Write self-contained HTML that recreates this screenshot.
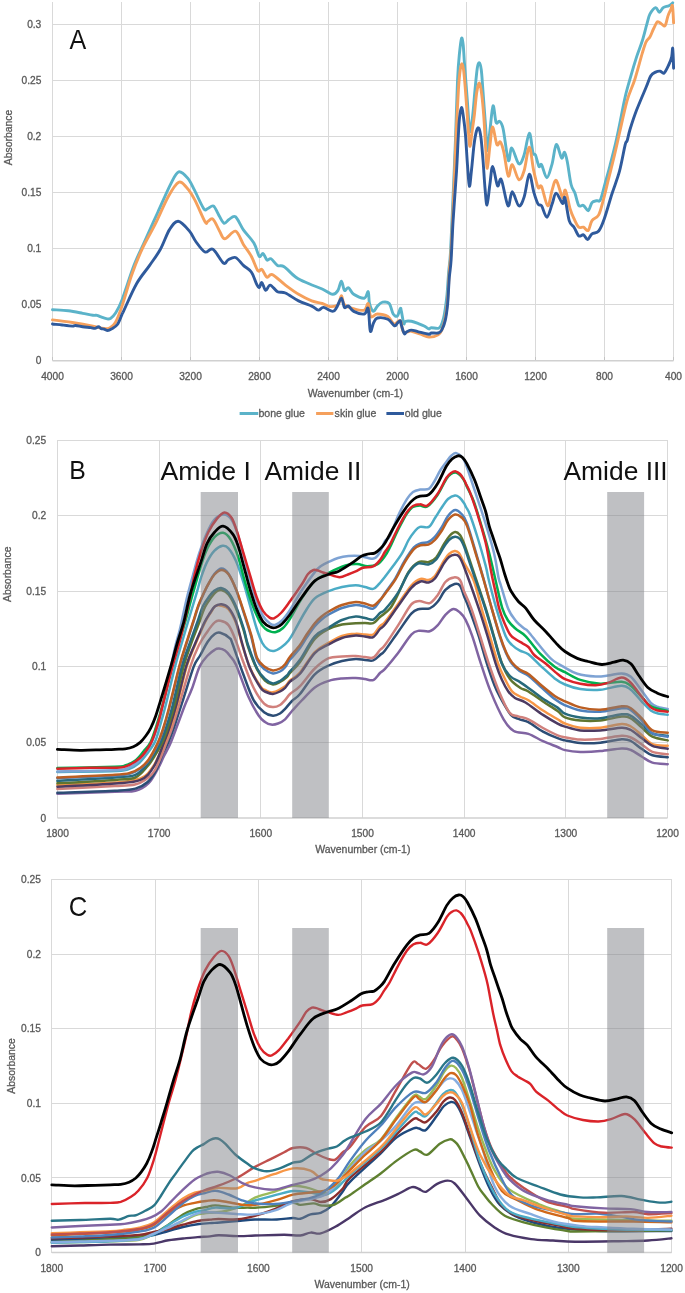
<!DOCTYPE html>
<html><head><meta charset="utf-8"><title>FTIR spectra</title>
<style>
html,body{margin:0;padding:0;background:#fff;}
body{width:685px;height:1293px;overflow:hidden;}
svg{display:block;font-family:"Liberation Sans", sans-serif;will-change:transform;}
</style></head>
<body>
<svg width="685" height="1293" viewBox="0 0 685 1293">
<rect x="0" y="0" width="685" height="1293" fill="#fff"/>
<g shape-rendering="crispEdges">
<line x1="121.5" y1="2.1" x2="121.5" y2="360.5" stroke="#d9d9d9" stroke-width="1"/>
<line x1="190.5" y1="2.1" x2="190.5" y2="360.5" stroke="#d9d9d9" stroke-width="1"/>
<line x1="259.5" y1="2.1" x2="259.5" y2="360.5" stroke="#d9d9d9" stroke-width="1"/>
<line x1="328.5" y1="2.1" x2="328.5" y2="360.5" stroke="#d9d9d9" stroke-width="1"/>
<line x1="397.5" y1="2.1" x2="397.5" y2="360.5" stroke="#d9d9d9" stroke-width="1"/>
<line x1="466.5" y1="2.1" x2="466.5" y2="360.5" stroke="#d9d9d9" stroke-width="1"/>
<line x1="535.5" y1="2.1" x2="535.5" y2="360.5" stroke="#d9d9d9" stroke-width="1"/>
<line x1="604.5" y1="2.1" x2="604.5" y2="360.5" stroke="#d9d9d9" stroke-width="1"/>
<line x1="673.5" y1="2.1" x2="673.5" y2="360.5" stroke="#d9d9d9" stroke-width="1"/>
<line x1="52.5" y1="2.1" x2="52.5" y2="360.5" stroke="#d9d9d9" stroke-width="1"/>
<line x1="52.5" y1="304.5" x2="673.5" y2="304.5" stroke="#d9d9d9" stroke-width="1"/>
<line x1="52.5" y1="248.5" x2="673.5" y2="248.5" stroke="#d9d9d9" stroke-width="1"/>
<line x1="52.5" y1="192.5" x2="673.5" y2="192.5" stroke="#d9d9d9" stroke-width="1"/>
<line x1="52.5" y1="136.5" x2="673.5" y2="136.5" stroke="#d9d9d9" stroke-width="1"/>
<line x1="52.5" y1="80.5" x2="673.5" y2="80.5" stroke="#d9d9d9" stroke-width="1"/>
<line x1="52.5" y1="24.5" x2="673.5" y2="24.5" stroke="#d9d9d9" stroke-width="1"/>
</g>
<line x1="52.5" y1="360.8" x2="673.5" y2="360.8" stroke="#d0d0d0" stroke-width="1.5"/>
<line x1="52.5" y1="357" x2="52.5" y2="360" stroke="#c4c4c4" stroke-width="1" shape-rendering="crispEdges"/>
<line x1="121.5" y1="357" x2="121.5" y2="360" stroke="#c4c4c4" stroke-width="1" shape-rendering="crispEdges"/>
<line x1="190.5" y1="357" x2="190.5" y2="360" stroke="#c4c4c4" stroke-width="1" shape-rendering="crispEdges"/>
<line x1="259.5" y1="357" x2="259.5" y2="360" stroke="#c4c4c4" stroke-width="1" shape-rendering="crispEdges"/>
<line x1="328.5" y1="357" x2="328.5" y2="360" stroke="#c4c4c4" stroke-width="1" shape-rendering="crispEdges"/>
<line x1="397.5" y1="357" x2="397.5" y2="360" stroke="#c4c4c4" stroke-width="1" shape-rendering="crispEdges"/>
<line x1="466.5" y1="357" x2="466.5" y2="360" stroke="#c4c4c4" stroke-width="1" shape-rendering="crispEdges"/>
<line x1="535.5" y1="357" x2="535.5" y2="360" stroke="#c4c4c4" stroke-width="1" shape-rendering="crispEdges"/>
<line x1="604.5" y1="357" x2="604.5" y2="360" stroke="#c4c4c4" stroke-width="1" shape-rendering="crispEdges"/>
<line x1="673.5" y1="357" x2="673.5" y2="360" stroke="#c4c4c4" stroke-width="1" shape-rendering="crispEdges"/>
<text x="41.3" y="364.1" font-size="10.2" text-anchor="end" fill="#595959" stroke="#595959" stroke-width="0.3">0</text>
<text x="41.3" y="308.1" font-size="10.2" text-anchor="end" fill="#595959" stroke="#595959" stroke-width="0.3">0.05</text>
<text x="41.3" y="252.1" font-size="10.2" text-anchor="end" fill="#595959" stroke="#595959" stroke-width="0.3">0.1</text>
<text x="41.3" y="196.1" font-size="10.2" text-anchor="end" fill="#595959" stroke="#595959" stroke-width="0.3">0.15</text>
<text x="41.3" y="140.1" font-size="10.2" text-anchor="end" fill="#595959" stroke="#595959" stroke-width="0.3">0.2</text>
<text x="41.3" y="84.1" font-size="10.2" text-anchor="end" fill="#595959" stroke="#595959" stroke-width="0.3">0.25</text>
<text x="41.3" y="28.1" font-size="10.2" text-anchor="end" fill="#595959" stroke="#595959" stroke-width="0.3">0.3</text>
<text x="52.5" y="379.8" font-size="10.2" text-anchor="middle" fill="#595959" stroke="#595959" stroke-width="0.3">4000</text>
<text x="121.5" y="379.8" font-size="10.2" text-anchor="middle" fill="#595959" stroke="#595959" stroke-width="0.3">3600</text>
<text x="190.5" y="379.8" font-size="10.2" text-anchor="middle" fill="#595959" stroke="#595959" stroke-width="0.3">3200</text>
<text x="259.5" y="379.8" font-size="10.2" text-anchor="middle" fill="#595959" stroke="#595959" stroke-width="0.3">2800</text>
<text x="328.5" y="379.8" font-size="10.2" text-anchor="middle" fill="#595959" stroke="#595959" stroke-width="0.3">2400</text>
<text x="397.5" y="379.8" font-size="10.2" text-anchor="middle" fill="#595959" stroke="#595959" stroke-width="0.3">2000</text>
<text x="466.5" y="379.8" font-size="10.2" text-anchor="middle" fill="#595959" stroke="#595959" stroke-width="0.3">1600</text>
<text x="535.5" y="379.8" font-size="10.2" text-anchor="middle" fill="#595959" stroke="#595959" stroke-width="0.3">1200</text>
<text x="604.5" y="379.8" font-size="10.2" text-anchor="middle" fill="#595959" stroke="#595959" stroke-width="0.3">800</text>
<text x="673.5" y="379.8" font-size="10.2" text-anchor="middle" fill="#595959" stroke="#595959" stroke-width="0.3">400</text>
<text x="355.4" y="397.3" font-size="10.5" text-anchor="middle" fill="#595959" stroke="#595959" stroke-width="0.3">Wavenumber (cm-1)</text>
<text transform="translate(12.1 137.4) rotate(-90)" font-size="10.4" text-anchor="middle" fill="#595959" stroke="#595959" stroke-width="0.3">Absorbance</text>
<line x1="239.6" y1="413.5" x2="258.3" y2="413.5" stroke="#5bb3c9" stroke-width="3"/>
<text x="258.4" y="417.2" font-size="10.6" text-anchor="start" fill="#595959" stroke="#595959" stroke-width="0.3">bone glue</text>
<line x1="316.1" y1="413.5" x2="333.4" y2="413.5" stroke="#f5a05c" stroke-width="3"/>
<text x="334.6" y="417.2" font-size="10.6" text-anchor="start" fill="#595959" stroke="#595959" stroke-width="0.3">skin glue</text>
<line x1="386.4" y1="413.5" x2="404.0" y2="413.5" stroke="#2f5a9c" stroke-width="3"/>
<text x="404.8" y="417.2" font-size="10.6" text-anchor="start" fill="#595959" stroke="#595959" stroke-width="0.3">old glue</text>
<text x="69.4" y="48.9" font-size="27.0" text-anchor="start" fill="#111" transform="translate(69.4 0) scale(0.93 1) translate(-69.4 0)">A</text>
<g>
<path d="M52.5 309.7 C55.1 309.9 63.3 310.1 68.3 310.7 C73.3 311.3 78.6 312.5 82.7 313.3 C86.8 314.1 90.5 315.0 92.9 315.3 C95.3 315.6 95.7 315.0 97.0 315.3 C98.3 315.6 99.3 316.3 101.0 316.9 C102.7 317.5 105.6 318.7 107.2 318.9 C108.8 319.1 109.4 319.1 110.8 318.2 C112.2 317.3 113.5 316.3 115.4 313.3 C117.3 310.3 118.9 308.0 122.0 300.0 C125.1 292.0 130.3 274.9 134.1 265.1 C137.9 255.4 140.7 250.3 144.6 241.5 C148.5 232.7 153.3 222.2 157.7 212.5 C162.1 202.8 167.4 190.4 170.9 183.6 C174.4 176.8 175.9 172.7 178.7 171.8 C181.5 170.9 185.3 175.3 187.9 178.4 C190.5 181.5 191.9 185.2 194.5 190.2 C197.1 195.2 201.5 205.5 203.7 208.6 C205.9 211.7 206.0 209.0 207.6 208.6 C209.2 208.2 211.6 205.1 213.4 206.0 C215.2 206.9 216.4 211.1 218.2 213.9 C219.9 216.8 222.1 222.2 223.9 223.1 C225.7 224.0 227.1 220.6 229.0 219.5 C230.9 218.4 233.1 215.1 235.5 216.8 C237.9 218.5 240.3 225.5 243.4 229.9 C246.5 234.3 251.3 238.7 253.9 243.1 C256.5 247.5 257.7 254.4 259.2 256.2 C260.7 257.9 261.8 252.9 263.1 253.6 C264.4 254.2 265.7 259.2 267.0 260.1 C268.3 261.0 269.2 257.9 271.0 258.8 C272.8 259.7 275.3 264.1 277.5 265.4 C279.7 266.7 281.0 264.7 284.1 266.7 C287.2 268.7 291.7 274.3 295.9 277.2 C300.1 280.1 304.7 281.8 309.1 283.8 C313.5 285.8 318.3 287.2 322.2 289.0 C326.1 290.8 330.1 294.1 332.7 294.3 C335.3 294.5 336.6 292.6 338.0 290.4 C339.4 288.2 340.3 281.2 341.4 281.2 C342.5 281.2 343.3 289.3 344.5 290.4 C345.7 291.5 347.0 287.0 348.5 287.7 C350.0 288.4 351.1 292.6 353.7 294.3 C356.3 296.1 361.9 298.6 364.3 298.2 C366.7 297.8 367.3 290.8 368.2 291.7 C369.1 292.6 368.6 300.2 369.5 303.5 C370.4 306.8 372.1 311.0 373.4 311.4 C374.7 311.8 375.9 307.6 377.4 306.1 C378.9 304.6 380.6 302.6 382.6 302.2 C384.6 301.8 387.4 301.5 389.2 303.5 C391.0 305.5 391.8 311.9 393.2 314.0 C394.6 316.1 396.1 316.9 397.3 316.0 C398.5 315.1 399.6 309.3 400.3 308.5 C401.0 307.7 400.8 308.9 401.4 311.4 C402.0 313.9 403.1 322.0 403.8 323.6 C404.5 325.2 404.2 321.7 405.5 321.3 C406.8 320.9 409.2 320.9 411.4 321.3 C413.5 321.7 416.3 322.8 418.4 323.6 C420.5 324.4 422.4 325.1 424.2 326.0 C425.9 326.9 427.7 328.6 428.9 328.9 C430.1 329.2 429.6 327.8 431.2 327.7 C432.8 327.6 436.5 328.7 438.2 328.3 C439.9 327.9 440.2 327.0 441.1 325.4 C442.0 323.8 442.8 321.1 443.5 318.4 C444.2 315.7 444.6 313.0 445.2 309.1 C445.8 305.2 446.4 301.2 447.0 295.0 C447.6 288.8 448.1 278.4 448.7 271.7 C449.2 265.0 449.8 263.6 450.3 255.0 C450.9 246.4 451.4 232.5 452.0 220.0 C452.6 207.5 453.2 193.5 453.8 180.0 C454.4 166.5 454.9 155.4 455.5 139.0 C456.1 122.5 456.9 95.3 457.5 81.3 C458.1 67.3 458.6 62.1 459.3 55.0 C460.0 47.9 460.9 40.1 461.5 38.4 C462.1 36.7 462.7 40.8 463.2 45.0 C463.7 49.2 463.8 54.8 464.5 63.8 C465.2 72.8 466.3 87.6 467.2 98.8 C468.1 110.0 468.9 127.8 469.8 131.0 C470.7 134.2 471.5 124.9 472.4 118.1 C473.3 111.3 474.2 98.3 475.0 90.0 C475.8 81.7 476.6 72.5 477.3 68.0 C478.0 63.5 478.7 62.6 479.4 62.9 C480.1 63.2 480.7 65.5 481.3 70.0 C481.9 74.5 482.2 80.8 482.9 90.0 C483.6 99.2 484.7 115.0 485.5 125.1 C486.3 135.2 486.8 149.7 487.5 150.5 C488.2 151.3 489.1 137.4 490.0 130.0 C490.9 122.5 492.1 107.0 493.1 105.8 C494.1 104.5 495.0 119.9 496.1 122.5 C497.2 125.1 498.4 120.2 499.6 121.3 C500.8 122.3 501.7 122.3 503.1 128.8 C504.6 135.3 506.9 157.1 508.3 160.3 C509.8 163.5 510.1 147.4 511.8 148.0 C513.5 148.6 516.8 162.6 518.8 163.8 C520.8 165.0 522.4 160.1 524.1 155.0 C525.9 149.9 527.8 133.5 529.3 133.1 C530.8 132.7 531.9 148.8 532.9 152.4 C533.9 156.1 534.5 152.7 535.5 155.0 C536.5 157.3 538.0 164.8 539.0 166.4 C540.0 168.0 540.3 162.8 541.6 164.7 C542.9 166.6 545.1 178.0 546.9 177.8 C548.6 177.7 550.5 169.3 552.1 163.8 C553.7 158.3 554.7 145.6 556.3 144.6 C557.9 143.6 560.2 156.7 561.6 158.0 C563.0 159.3 563.5 151.7 564.5 152.3 C565.5 152.9 566.2 156.4 567.3 161.8 C568.4 167.2 569.8 179.3 571.1 184.5 C572.4 189.7 573.6 189.6 574.9 193.1 C576.2 196.6 577.3 203.3 578.7 205.4 C580.1 207.5 581.9 204.5 583.5 205.4 C585.1 206.3 586.8 211.2 588.2 210.7 C589.6 210.2 590.6 204.3 592.0 202.6 C593.4 200.9 595.4 201.2 596.8 200.7 C598.2 200.2 599.1 202.7 600.5 199.7 C601.9 196.7 603.7 188.3 605.3 182.6 C606.9 176.9 608.3 172.1 610.0 165.5 C611.7 158.9 614.1 149.6 615.7 142.8 C617.3 136.1 617.9 132.7 619.5 125.0 C621.1 117.3 623.3 105.0 625.2 96.8 C627.1 88.6 629.0 82.6 630.9 75.9 C632.8 69.2 634.7 62.8 636.6 56.9 C638.5 51.0 640.6 46.3 642.3 40.8 C644.0 35.3 645.7 28.1 647.0 23.7 C648.3 19.3 648.5 16.9 649.9 14.2 C651.3 11.5 654.0 7.9 655.6 7.6 C657.2 7.3 658.1 12.3 659.4 12.3 C660.7 12.3 661.6 8.7 663.2 7.6 C664.8 6.5 667.3 6.5 668.9 5.7 C670.5 4.9 672.1 3.3 672.7 2.8" fill="none" stroke="#5bb3c9" stroke-width="2.9" stroke-linejoin="round" stroke-linecap="round"/>
<path d="M52.5 319.9 C55.8 320.3 65.7 321.5 72.4 322.5 C79.1 323.5 88.5 325.2 92.9 326.1 C97.3 327.0 96.6 327.2 99.0 327.6 C101.4 328.0 105.3 328.6 107.2 328.6 C109.1 328.6 108.8 328.6 110.2 327.6 C111.6 326.6 113.4 326.1 115.4 322.5 C117.4 318.9 119.3 313.9 122.0 306.1 C124.7 298.3 128.2 285.1 131.5 275.6 C134.8 266.1 138.1 257.8 142.0 249.3 C145.9 240.8 150.7 233.2 155.1 224.4 C159.5 215.7 164.3 203.8 168.2 196.8 C172.1 189.8 175.6 183.8 178.7 182.3 C181.8 180.8 184.0 184.8 186.6 187.6 C189.2 190.4 191.4 193.7 194.5 199.4 C197.6 205.1 202.8 218.0 205.0 221.7 C207.2 225.4 206.3 222.1 207.6 221.7 C208.9 221.3 210.9 217.6 212.9 219.1 C214.9 220.6 217.5 227.6 219.5 230.9 C221.5 234.2 222.1 238.8 224.8 238.8 C227.5 238.9 232.4 230.3 235.5 231.2 C238.6 232.1 240.8 240.2 243.4 244.4 C246.0 248.6 248.9 251.8 251.3 256.2 C253.7 260.6 256.1 268.4 257.8 270.6 C259.6 272.8 260.3 268.2 261.8 269.3 C263.3 270.4 265.2 276.3 267.0 277.2 C268.8 278.1 269.2 273.3 272.3 274.6 C275.4 275.9 281.0 281.8 285.4 285.1 C289.8 288.4 294.2 291.7 298.6 294.3 C303.0 296.9 307.8 299.4 311.7 300.9 C315.6 302.4 319.1 302.6 322.2 303.5 C325.3 304.4 327.5 306.4 330.1 306.6 C332.7 306.8 336.1 306.6 338.0 304.8 C339.9 303.0 340.3 295.6 341.4 295.6 C342.5 295.6 342.4 302.6 344.5 304.8 C346.6 307.0 350.4 307.8 353.7 308.7 C357.0 309.6 361.9 311.0 364.3 310.1 C366.7 309.2 367.1 302.4 368.2 303.5 C369.3 304.6 369.3 314.9 370.8 316.6 C372.3 318.4 374.5 314.0 377.4 314.0 C380.2 314.0 385.1 314.9 387.9 316.6 C390.7 318.3 391.9 323.3 394.0 324.0 C396.1 324.7 398.7 319.4 400.3 320.7 C401.9 322.0 401.6 330.2 403.5 332.0 C405.4 333.8 408.5 330.8 411.4 331.2 C414.3 331.6 417.8 333.2 420.7 334.2 C423.6 335.2 426.0 337.0 428.9 337.1 C431.8 337.2 436.1 335.9 438.2 334.7 C440.3 333.5 440.5 332.8 441.7 330.1 C442.9 327.4 444.2 323.3 445.2 318.4 C446.2 313.5 446.9 308.7 447.6 300.9 C448.3 293.1 448.8 279.3 449.3 271.7 C449.8 264.1 450.2 263.6 450.8 255.0 C451.4 246.4 452.0 232.5 452.6 220.0 C453.2 207.5 453.8 193.5 454.3 180.0 C454.9 166.5 455.2 154.1 455.9 139.1 C456.6 124.1 457.7 101.5 458.4 90.0 C459.1 78.5 459.6 74.4 460.2 70.0 C460.8 65.6 461.3 63.8 461.9 63.8 C462.5 63.8 463.0 65.6 463.6 70.0 C464.2 74.4 464.7 80.8 465.4 90.0 C466.1 99.2 467.3 115.7 468.0 125.1 C468.7 134.5 469.1 145.2 469.8 146.3 C470.5 147.5 471.3 137.0 472.0 132.0 C472.7 127.0 473.4 123.1 474.2 116.4 C475.0 109.7 475.9 97.5 476.8 92.0 C477.7 86.5 478.6 82.6 479.4 83.1 C480.2 83.6 481.1 89.5 481.8 95.0 C482.5 100.5 483.1 107.2 483.8 116.4 C484.5 125.6 485.2 141.4 485.8 150.0 C486.4 158.6 486.6 169.0 487.3 168.2 C488.0 167.4 489.1 151.9 490.0 145.0 C490.9 138.1 491.5 127.1 492.6 127.0 C493.8 126.9 495.6 142.0 496.9 144.5 C498.2 147.0 499.2 140.6 500.4 141.9 C501.6 143.2 502.6 146.7 503.9 152.4 C505.2 158.1 506.9 174.1 508.3 176.1 C509.7 178.1 510.5 164.1 512.2 164.7 C514.0 165.3 516.8 178.6 518.8 179.6 C520.8 180.6 522.4 176.2 524.1 170.8 C525.9 165.4 527.7 147.2 529.3 147.2 C530.9 147.2 532.2 164.1 533.7 170.8 C535.2 177.5 536.8 184.8 538.1 187.4 C539.4 190.0 540.0 183.5 541.6 186.6 C543.2 189.7 546.0 205.2 547.7 205.8 C549.5 206.4 550.7 194.3 552.1 190.1 C553.5 185.9 554.5 179.2 556.3 180.5 C558.0 181.8 561.1 196.2 562.6 197.8 C564.1 199.4 564.1 188.3 565.4 190.2 C566.7 192.1 568.8 204.4 570.2 209.2 C571.6 213.9 572.6 215.7 574.0 218.7 C575.4 221.7 577.1 225.8 578.7 227.2 C580.3 228.6 581.9 226.6 583.5 227.2 C585.1 227.8 586.8 231.6 588.2 230.5 C589.6 229.4 590.2 223.2 592.0 220.6 C593.8 218.0 596.8 218.4 598.7 214.9 C600.6 211.4 601.8 205.4 603.4 199.7 C605.0 194.0 606.4 187.6 608.1 180.7 C609.8 173.8 611.9 165.9 613.8 158.0 C615.7 150.1 617.3 142.6 619.5 133.0 C621.7 123.4 624.6 109.5 627.1 100.6 C629.6 91.7 632.2 87.6 634.7 79.7 C637.2 71.8 640.4 59.4 642.3 53.1 C644.2 46.8 644.8 44.5 646.1 41.8 C647.4 39.1 648.6 39.2 649.9 37.0 C651.2 34.8 652.4 31.0 653.7 28.5 C655.0 26.0 656.2 22.6 657.5 21.8 C658.8 21.1 660.2 23.4 661.5 24.0 C662.8 24.6 664.0 26.9 665.1 25.6 C666.2 24.3 667.0 18.8 667.9 16.1 C668.8 13.4 670.0 11.2 670.8 9.5 C671.6 7.8 672.0 3.8 672.5 6.0 C673.0 8.2 673.4 20.0 673.6 22.8" fill="none" stroke="#f5a05c" stroke-width="2.9" stroke-linejoin="round" stroke-linecap="round"/>
<path d="M52.5 324.0 C54.1 324.2 58.9 324.6 62.2 325.0 C65.5 325.4 70.2 326.0 72.4 326.1 C74.6 326.2 73.8 325.4 75.5 325.5 C77.2 325.6 80.2 326.4 82.7 326.8 C85.2 327.2 88.8 327.3 90.8 327.6 C92.8 327.9 93.6 328.5 94.9 328.4 C96.2 328.3 97.5 326.8 98.5 326.8 C99.5 326.8 100.2 328.2 101.1 328.6 C102.0 329.0 103.0 328.8 104.1 329.1 C105.2 329.4 106.5 330.5 107.7 330.5 C108.9 330.5 109.7 330.1 111.3 329.1 C112.9 328.1 115.6 327.0 117.4 324.5 C119.2 322.0 121.0 316.5 122.0 314.3 C123.0 312.1 121.1 316.2 123.6 311.1 C126.0 306.0 132.3 291.2 136.7 283.5 C141.1 275.8 145.9 270.8 149.8 265.1 C153.8 259.4 157.1 255.2 160.4 249.3 C163.7 243.4 166.5 234.3 169.5 229.6 C172.5 224.9 174.9 221.0 178.2 221.2 C181.5 221.4 186.4 227.5 189.3 230.9 C192.2 234.3 193.2 238.0 195.8 241.5 C198.4 245.0 202.2 250.7 205.0 252.0 C207.8 253.3 209.8 247.5 212.9 249.3 C216.0 251.1 220.9 261.2 223.4 263.0 C225.9 264.8 226.0 260.9 228.0 260.0 C230.0 259.1 232.9 256.6 235.5 257.5 C238.1 258.4 240.8 263.0 243.4 265.4 C246.0 267.8 249.1 268.9 251.3 272.0 C253.5 275.1 255.2 281.2 256.5 283.8 C257.8 286.4 258.3 287.9 259.2 287.7 C260.1 287.5 260.7 282.1 261.8 282.5 C262.9 282.9 264.3 290.0 265.7 290.4 C267.1 290.8 268.2 284.9 270.2 285.1 C272.2 285.3 275.0 290.4 277.5 291.7 C280.0 293.0 281.9 291.5 285.4 293.0 C288.9 294.5 294.2 298.7 298.6 300.9 C303.0 303.1 308.4 304.6 311.7 306.1 C315.0 307.6 316.3 309.9 318.3 310.1 C320.3 310.3 321.1 307.2 323.5 307.4 C325.9 307.6 330.5 311.4 332.7 311.4 C334.9 311.4 335.2 309.6 336.7 307.4 C338.1 305.2 340.1 298.2 341.4 298.2 C342.7 298.2 343.3 306.1 344.5 307.4 C345.7 308.7 347.0 305.4 348.5 306.1 C350.0 306.8 351.1 310.1 353.7 311.4 C356.3 312.7 361.9 314.4 364.3 314.0 C366.7 313.6 367.2 305.8 368.2 308.7 C369.2 311.6 369.4 328.7 370.3 331.1 C371.2 333.5 372.2 325.4 373.4 323.2 C374.6 321.0 375.0 318.6 377.4 318.0 C379.8 317.4 385.0 318.0 387.9 319.3 C390.8 320.6 392.9 325.2 394.5 325.8 C396.1 326.4 396.5 323.9 397.5 323.0 C398.5 322.1 399.7 320.3 400.3 320.7 C400.9 321.1 400.7 323.2 401.4 325.4 C402.1 327.5 403.4 332.5 404.3 333.6 C405.2 334.7 405.5 332.4 406.7 331.8 C407.9 331.2 409.4 330.1 411.4 330.1 C413.3 330.1 415.5 331.1 418.4 331.8 C421.3 332.5 426.8 334.0 428.9 334.2 C431.0 334.4 429.6 333.2 431.2 333.0 C432.8 332.8 436.4 333.5 438.2 333.0 C439.9 332.5 440.5 332.2 441.7 330.1 C442.9 328.1 444.2 325.0 445.2 320.7 C446.2 316.4 446.9 311.6 447.6 304.4 C448.3 297.2 448.7 284.9 449.3 277.5 C449.9 270.1 450.5 269.5 451.1 260.0 C451.7 250.5 452.2 235.4 453.1 220.4 C454.0 205.4 455.8 183.6 456.6 170.2 C457.4 156.8 457.6 148.7 458.1 140.0 C458.6 131.3 458.9 123.4 459.5 118.0 C460.1 112.6 460.9 107.9 461.5 107.6 C462.1 107.3 462.7 111.6 463.3 116.0 C463.9 120.4 464.7 125.7 465.4 133.9 C466.1 142.1 466.8 156.3 467.5 165.0 C468.2 173.7 468.7 185.4 469.4 186.2 C470.1 187.0 470.7 176.9 471.5 170.0 C472.3 163.1 473.2 151.5 474.0 145.0 C474.8 138.5 475.7 133.8 476.5 131.0 C477.3 128.2 478.1 127.1 478.9 128.3 C479.6 129.5 480.3 132.7 481.0 138.0 C481.7 143.3 482.3 151.7 483.0 160.0 C483.7 168.3 484.3 180.5 485.0 188.0 C485.7 195.5 486.2 205.5 487.0 205.0 C487.8 204.5 488.9 191.4 489.8 185.0 C490.8 178.6 491.4 166.4 492.7 166.5 C494.0 166.6 496.1 183.5 497.5 185.7 C498.9 187.9 499.6 176.2 501.3 179.6 C503.1 182.9 506.2 203.8 508.0 205.8 C509.8 207.8 510.4 191.8 512.2 191.8 C514.0 191.8 516.8 204.9 518.8 205.8 C520.8 206.7 522.4 202.3 524.1 197.1 C525.9 191.8 527.7 175.2 529.3 174.3 C530.9 173.4 532.2 186.8 533.7 191.8 C535.2 196.8 536.8 201.8 538.1 204.1 C539.4 206.4 540.1 203.6 541.6 205.8 C543.1 208.0 545.1 217.5 546.9 217.2 C548.6 216.9 550.6 208.1 552.1 204.1 C553.6 200.1 554.4 193.4 556.1 193.3 C557.9 193.2 561.1 202.8 562.6 203.5 C564.1 204.2 563.8 195.0 564.9 197.8 C566.0 200.7 567.7 215.7 569.2 220.6 C570.7 225.5 572.4 224.7 574.0 227.2 C575.6 229.7 577.1 234.5 578.7 235.8 C580.3 237.1 582.0 234.2 583.5 234.8 C585.0 235.4 586.2 239.8 587.6 239.6 C589.0 239.4 590.1 235.3 592.0 233.9 C593.9 232.5 596.7 233.5 598.7 231.0 C600.8 228.5 602.1 224.9 604.3 218.7 C606.5 212.5 609.4 201.9 611.9 194.0 C614.4 186.1 617.3 179.4 619.5 171.2 C621.7 163.0 623.9 149.8 625.2 144.7 C626.5 139.6 626.3 143.4 627.1 140.9 C627.9 138.4 628.4 134.6 630.0 129.5 C631.6 124.4 633.9 117.1 636.6 110.1 C639.3 103.1 643.7 93.0 646.1 87.3 C648.5 81.6 649.2 78.4 650.8 75.9 C652.4 73.4 654.0 72.9 655.6 72.1 C657.2 71.3 658.9 71.0 660.3 71.2 C661.7 71.4 662.7 74.2 664.1 73.1 C665.5 72.0 667.6 67.2 668.9 64.5 C670.2 61.8 671.1 59.6 671.7 56.9 C672.3 54.2 672.4 46.5 672.7 48.4 C673.0 50.3 673.5 65.0 673.6 68.3" fill="none" stroke="#2f5a9c" stroke-width="2.9" stroke-linejoin="round" stroke-linecap="round"/>
</g>
<g shape-rendering="crispEdges">
<line x1="57.5" y1="440.0" x2="57.5" y2="818.0" stroke="#d9d9d9" stroke-width="1"/>
<line x1="159.2" y1="440.0" x2="159.2" y2="818.0" stroke="#d9d9d9" stroke-width="1"/>
<line x1="260.8" y1="440.0" x2="260.8" y2="818.0" stroke="#d9d9d9" stroke-width="1"/>
<line x1="362.5" y1="440.0" x2="362.5" y2="818.0" stroke="#d9d9d9" stroke-width="1"/>
<line x1="464.2" y1="440.0" x2="464.2" y2="818.0" stroke="#d9d9d9" stroke-width="1"/>
<line x1="565.9" y1="440.0" x2="565.9" y2="818.0" stroke="#d9d9d9" stroke-width="1"/>
<line x1="667.5" y1="440.0" x2="667.5" y2="818.0" stroke="#d9d9d9" stroke-width="1"/>
<line x1="57.5" y1="742.4" x2="667.5" y2="742.4" stroke="#d9d9d9" stroke-width="1"/>
<line x1="57.5" y1="666.8" x2="667.5" y2="666.8" stroke="#d9d9d9" stroke-width="1"/>
<line x1="57.5" y1="591.2" x2="667.5" y2="591.2" stroke="#d9d9d9" stroke-width="1"/>
<line x1="57.5" y1="515.6" x2="667.5" y2="515.6" stroke="#d9d9d9" stroke-width="1"/>
<line x1="57.5" y1="440.0" x2="667.5" y2="440.0" stroke="#d9d9d9" stroke-width="1"/>
</g>
<line x1="57.5" y1="818" x2="667.5" y2="818" stroke="#d0d0d0" stroke-width="1.5"/>
<text x="46.2" y="821.6" font-size="10.2" text-anchor="end" fill="#595959" stroke="#595959" stroke-width="0.3">0</text>
<text x="46.2" y="746.0" font-size="10.2" text-anchor="end" fill="#595959" stroke="#595959" stroke-width="0.3">0.05</text>
<text x="46.2" y="670.4" font-size="10.2" text-anchor="end" fill="#595959" stroke="#595959" stroke-width="0.3">0.1</text>
<text x="46.2" y="594.8" font-size="10.2" text-anchor="end" fill="#595959" stroke="#595959" stroke-width="0.3">0.15</text>
<text x="46.2" y="519.2" font-size="10.2" text-anchor="end" fill="#595959" stroke="#595959" stroke-width="0.3">0.2</text>
<text x="46.2" y="443.6" font-size="10.2" text-anchor="end" fill="#595959" stroke="#595959" stroke-width="0.3">0.25</text>
<text x="57.5" y="836.7" font-size="10.2" text-anchor="middle" fill="#595959" stroke="#595959" stroke-width="0.3">1800</text>
<text x="159.2" y="836.7" font-size="10.2" text-anchor="middle" fill="#595959" stroke="#595959" stroke-width="0.3">1700</text>
<text x="260.8" y="836.7" font-size="10.2" text-anchor="middle" fill="#595959" stroke="#595959" stroke-width="0.3">1600</text>
<text x="362.5" y="836.7" font-size="10.2" text-anchor="middle" fill="#595959" stroke="#595959" stroke-width="0.3">1500</text>
<text x="464.2" y="836.7" font-size="10.2" text-anchor="middle" fill="#595959" stroke="#595959" stroke-width="0.3">1400</text>
<text x="565.9" y="836.7" font-size="10.2" text-anchor="middle" fill="#595959" stroke="#595959" stroke-width="0.3">1300</text>
<text x="667.5" y="836.7" font-size="10.2" text-anchor="middle" fill="#595959" stroke="#595959" stroke-width="0.3">1200</text>
<text x="362.8" y="853.2" font-size="10.5" text-anchor="middle" fill="#595959" stroke="#595959" stroke-width="0.3">Wavenumber (cm-1)</text>
<text transform="translate(11.1 574.3) rotate(-90)" font-size="10.4" text-anchor="middle" fill="#595959" stroke="#595959" stroke-width="0.3">Absorbance</text>
<text x="69.2" y="479.0" font-size="26.4" text-anchor="start" fill="#111" transform="translate(69.2 0) scale(0.94 1) translate(-69.2 0)">B</text>
<text x="160.5" y="479.6" font-size="26.4" text-anchor="start" fill="#111" textLength="90.5" lengthAdjust="spacingAndGlyphs">Amide I</text>
<text x="264.5" y="479.6" font-size="26.4" text-anchor="start" fill="#111">Amide II</text>
<text x="563.5" y="479.6" font-size="26.4" text-anchor="start" fill="#111">Amide III</text>
<path d="M57.4 793.7 C67.0 793.4 102.0 792.2 115.0 791.7 C128.0 791.2 129.8 792.2 135.4 790.7 C141.0 789.2 144.9 786.7 148.7 783.0 C152.4 779.3 155.3 773.2 157.9 768.7 C160.5 764.2 161.8 760.4 164.0 756.0 C166.2 751.6 168.4 748.1 170.8 742.4 C173.2 736.7 176.2 728.2 178.6 722.0 C181.0 715.8 182.7 710.7 185.0 705.0 C187.3 699.3 189.8 694.4 192.2 688.0 C194.6 681.6 197.1 671.8 199.7 666.4 C202.3 661.0 205.2 658.3 207.7 655.5 C210.2 652.7 212.8 650.9 214.7 649.8 C216.6 648.6 217.3 648.5 219.0 648.6 C220.7 648.7 223.2 649.3 225.0 650.5 C226.8 651.7 228.2 653.6 230.0 656.0 C231.8 658.4 233.0 658.2 236.1 665.0 C239.2 671.8 244.5 688.1 248.3 696.6 C252.1 705.1 256.0 711.6 258.8 715.8 C261.6 720.0 262.9 720.5 265.0 722.0 C267.1 723.5 268.9 724.4 271.1 724.6 C273.3 724.9 275.7 724.4 278.0 723.5 C280.3 722.6 282.8 721.4 285.1 719.3 C287.4 717.2 289.2 714.1 292.0 711.0 C294.8 707.9 297.9 704.4 301.7 700.5 C305.5 696.6 310.3 690.7 314.8 687.4 C319.3 684.1 324.2 682.4 328.7 680.9 C333.2 679.4 337.5 679.0 342.0 678.5 C346.5 678.0 351.9 677.9 355.7 678.0 C359.5 678.1 362.1 678.6 365.0 679.0 C367.9 679.4 370.7 681.1 373.2 680.1 C375.7 679.1 378.0 674.9 380.0 673.0 C382.0 671.1 382.0 672.1 385.0 668.8 C388.0 665.5 393.7 658.7 398.1 653.0 C402.5 647.3 407.8 638.3 411.3 634.6 C414.8 630.9 416.1 631.2 419.2 630.7 C422.3 630.2 426.6 632.2 429.7 631.3 C432.8 630.4 435.0 628.1 437.6 625.4 C440.2 622.7 442.8 617.6 445.4 614.9 C448.0 612.2 450.9 609.4 453.3 609.0 C455.7 608.6 457.9 610.7 460.0 612.5 C462.1 614.3 463.6 616.0 465.6 619.9 C467.6 623.8 469.6 628.4 472.1 635.7 C474.7 643.0 477.8 654.3 480.9 663.6 C484.0 672.9 486.8 682.1 490.6 691.4 C494.4 700.7 499.7 712.7 503.6 719.3 C507.5 725.9 509.7 728.6 513.8 731.0 C517.9 733.4 523.5 732.2 528.4 733.9 C533.3 735.6 538.1 739.0 543.0 741.2 C547.9 743.4 553.9 745.5 557.6 747.0 C561.3 748.5 561.2 749.3 565.0 750.1 C568.8 750.9 574.4 751.7 580.3 751.9 C586.2 752.1 593.4 751.7 600.3 751.1 C607.2 750.5 616.6 748.7 621.7 748.5 C626.8 748.3 627.6 748.7 630.9 750.0 C634.2 751.3 638.0 754.4 641.6 756.5 C645.2 758.6 648.0 761.3 652.4 762.6 C656.8 763.9 665.2 763.9 667.7 764.2" fill="none" stroke="#8064a2" stroke-width="2.5" stroke-linejoin="round" stroke-linecap="round"/>
<path d="M57.4 792.8 C67.0 792.4 102.0 791.4 115.0 790.7 C128.0 790.0 130.0 790.1 135.4 788.6 C140.8 787.1 144.3 785.0 147.7 782.0 C151.1 779.0 153.3 775.5 155.9 770.7 C158.5 765.9 160.9 757.7 163.0 753.0 C165.1 748.3 166.2 747.6 168.3 742.4 C170.4 737.2 173.4 729.1 175.8 722.0 C178.2 714.9 180.0 709.3 183.0 700.0 C186.0 690.7 191.0 673.8 193.8 666.4 C196.7 659.0 197.8 659.6 200.1 655.5 C202.4 651.4 205.3 645.3 207.7 641.7 C210.1 638.1 212.6 635.5 214.7 634.0 C216.8 632.5 217.8 632.1 220.3 632.8 C222.8 633.5 227.6 636.2 229.6 638.1 C231.6 640.0 230.3 638.0 232.6 644.0 C234.8 650.0 239.6 664.4 243.1 673.8 C246.6 683.1 250.1 693.7 253.6 700.1 C257.1 706.5 260.9 709.7 264.1 712.3 C267.3 714.9 270.2 715.6 272.9 715.8 C275.5 716.0 278.0 714.7 280.0 713.5 C282.0 712.3 283.1 710.9 285.1 708.8 C287.1 706.7 289.5 703.5 292.0 701.0 C294.5 698.5 296.2 698.5 300.0 694.0 C303.8 689.5 310.0 679.0 314.8 674.3 C319.6 669.5 324.2 667.7 328.7 665.5 C333.2 663.3 337.5 662.1 342.0 661.0 C346.5 659.9 351.9 659.2 355.7 659.0 C359.5 658.8 362.1 659.8 365.0 660.0 C367.9 660.2 370.7 661.2 373.2 660.4 C375.7 659.6 378.0 656.7 380.0 655.0 C382.0 653.3 382.0 654.2 385.0 650.4 C388.0 646.6 393.7 638.1 398.1 632.0 C402.5 625.9 407.8 617.4 411.3 613.6 C414.8 609.8 416.1 609.9 419.2 609.0 C422.3 608.1 426.6 609.5 429.7 608.3 C432.8 607.1 435.0 604.9 437.6 601.8 C440.2 598.7 442.6 592.9 445.4 589.9 C448.2 586.9 452.2 584.7 454.6 584.0 C457.0 583.3 458.4 583.6 460.0 585.6 C461.6 587.6 462.5 592.3 464.0 596.0 C465.5 599.7 466.4 601.3 468.8 607.9 C471.2 614.5 475.6 626.4 478.6 635.7 C481.6 645.0 484.3 655.6 486.9 663.6 C489.5 671.6 491.9 678.7 494.0 684.0 C496.1 689.3 496.4 690.4 499.2 695.5 C502.0 700.6 507.5 710.9 510.9 714.9 C514.3 718.9 516.7 718.1 519.6 719.3 C522.5 720.5 524.5 720.1 528.4 722.2 C532.3 724.3 538.1 729.0 543.0 731.7 C547.9 734.4 553.9 736.8 557.6 738.2 C561.3 739.7 561.2 739.6 565.0 740.4 C568.8 741.2 574.4 742.6 580.3 743.0 C586.2 743.4 593.4 743.3 600.3 742.7 C607.2 742.1 616.6 739.6 621.7 739.3 C626.8 739.0 627.6 739.4 630.9 741.0 C634.2 742.6 638.0 746.4 641.6 748.8 C645.2 751.2 648.0 753.9 652.4 755.3 C656.8 756.7 665.2 757.0 667.7 757.3" fill="none" stroke="#2c4d75" stroke-width="2.5" stroke-linejoin="round" stroke-linecap="round"/>
<path d="M57.4 788.9 C67.0 788.4 102.1 786.8 115.0 786.1 C127.9 785.4 130.0 785.5 135.0 784.5 C140.0 783.5 141.7 782.4 145.0 780.0 C148.3 777.6 151.4 776.3 155.0 770.0 C158.6 763.7 163.8 749.4 166.6 742.4 C169.4 735.4 170.0 733.9 172.0 728.0 C174.0 722.1 175.4 717.3 178.5 707.0 C181.6 696.7 187.0 676.7 190.4 666.4 C193.8 656.1 196.1 650.9 199.0 645.0 C201.9 639.1 205.1 635.0 207.7 631.2 C210.3 627.4 212.6 624.1 214.7 622.4 C216.8 620.6 217.7 620.2 220.0 620.7 C222.3 621.2 225.8 621.7 228.5 625.1 C231.2 628.5 233.7 635.3 236.1 641.4 C238.5 647.5 240.2 653.8 243.1 661.5 C246.0 669.2 250.1 680.8 253.6 687.8 C257.1 694.8 260.9 700.4 264.1 703.6 C267.3 706.8 270.2 706.9 272.9 707.1 C275.5 707.3 278.0 706.2 280.0 705.0 C282.0 703.8 283.4 701.9 285.1 700.1 C286.8 698.3 287.5 696.3 290.0 694.0 C292.5 691.7 295.9 690.4 300.0 686.1 C304.1 681.9 310.0 673.1 314.8 668.5 C319.6 663.9 324.2 660.2 328.7 658.2 C333.2 656.2 337.5 656.9 342.0 656.5 C346.5 656.1 351.9 656.0 355.7 656.1 C359.5 656.2 362.1 656.8 365.0 657.0 C367.9 657.2 370.7 658.7 373.2 657.5 C375.7 656.3 378.0 652.1 380.0 650.0 C382.0 647.9 382.0 649.2 385.0 645.1 C388.0 641.0 393.7 632.2 398.1 625.4 C402.5 618.6 407.8 608.4 411.3 604.4 C414.8 600.4 416.1 601.3 419.2 601.1 C422.3 600.9 426.6 604.1 429.7 603.1 C432.8 602.1 435.0 598.7 437.6 595.2 C440.2 591.7 442.7 585.0 445.4 582.0 C448.1 579.0 451.6 577.7 454.0 577.4 C456.4 577.1 458.3 577.7 460.0 580.0 C461.7 582.3 462.1 586.6 464.0 591.3 C465.9 595.9 468.4 600.5 471.1 607.9 C473.8 615.3 477.1 626.4 480.0 635.7 C482.9 645.0 485.6 654.3 488.8 663.6 C492.0 672.9 495.6 683.2 499.0 691.4 C502.4 699.5 506.2 708.3 509.4 712.5 C512.6 716.7 515.0 715.3 518.2 716.4 C521.4 717.5 524.3 717.4 528.4 719.3 C532.5 721.2 538.1 725.3 543.0 728.0 C547.9 730.7 553.9 733.8 557.6 735.3 C561.3 736.8 561.2 736.6 565.0 737.3 C568.8 738.0 574.4 739.3 580.3 739.6 C586.2 739.9 593.4 739.5 600.3 738.9 C607.2 738.3 616.6 736.0 621.7 735.8 C626.8 735.6 627.6 736.1 630.9 737.5 C634.2 738.9 638.0 741.8 641.6 744.2 C645.2 746.6 648.0 750.2 652.4 751.9 C656.8 753.6 665.2 753.8 667.7 754.2" fill="none" stroke="#d0807c" stroke-width="2.5" stroke-linejoin="round" stroke-linecap="round"/>
<path d="M57.4 785.0 C67.0 784.6 101.2 783.6 115.0 782.5 C128.8 781.4 134.0 781.3 140.5 778.5 C147.0 775.7 149.8 771.6 153.8 765.5 C157.9 759.4 162.0 748.7 164.8 742.0 C167.6 735.3 168.8 731.6 170.8 725.5 C172.8 719.4 174.1 715.4 176.8 705.5 C179.5 695.6 183.8 676.2 186.9 666.0 C190.0 655.8 192.2 651.8 195.3 644.5 C198.4 637.2 202.6 627.3 205.2 622.0 C207.8 616.7 209.1 615.2 210.8 612.5 C212.5 609.8 213.7 607.1 215.5 606.0 C217.3 604.9 219.3 605.2 221.5 605.8 C223.7 606.3 226.1 606.4 228.5 609.3 C230.9 612.2 233.8 617.3 236.1 623.4 C238.4 629.5 240.3 638.6 242.6 646.0 C244.9 653.4 247.1 661.2 250.1 668.0 C253.1 674.8 258.1 682.8 260.6 686.5 C263.1 690.2 262.9 689.0 265.0 690.0 C267.1 691.0 269.5 692.9 272.9 692.3 C276.2 691.7 282.2 688.3 285.1 686.3 C288.0 684.3 287.5 682.8 290.0 680.5 C292.5 678.2 295.9 677.2 300.0 672.5 C304.1 667.8 310.0 657.0 314.8 652.0 C319.6 647.0 324.2 645.5 328.7 642.8 C333.2 640.1 337.5 637.5 342.0 636.0 C346.5 634.5 351.9 634.0 355.7 633.8 C359.5 633.5 362.1 634.4 365.0 634.5 C367.9 634.6 370.7 635.9 373.2 634.5 C375.7 633.1 378.0 628.1 380.0 626.0 C382.0 623.9 382.0 625.7 385.0 622.0 C388.0 618.3 393.7 610.1 398.1 604.0 C402.5 597.9 407.6 589.7 411.3 585.5 C415.0 581.3 417.6 579.9 420.5 579.0 C423.4 578.1 426.0 580.5 428.4 580.0 C430.8 579.5 432.3 579.2 434.9 576.0 C437.5 572.8 441.8 564.2 444.1 560.5 C446.5 556.8 447.2 555.6 449.0 554.0 C450.8 552.4 452.9 551.2 454.6 551.0 C456.3 550.8 457.4 551.0 459.0 553.0 C460.6 555.0 461.5 558.0 464.0 562.7 C466.5 567.4 471.0 573.5 473.9 581.0 C476.8 588.5 478.8 598.8 481.4 607.9 C484.0 617.0 486.9 626.4 489.7 635.7 C492.5 645.0 495.6 656.4 498.1 663.6 C500.7 670.8 502.7 674.4 505.0 679.0 C507.3 683.6 509.5 688.5 512.0 691.4 C514.5 694.3 517.3 695.0 520.0 696.5 C522.7 698.0 524.6 698.0 528.4 700.3 C532.2 702.6 538.1 707.3 543.0 710.5 C547.9 713.7 553.9 717.1 557.6 719.3 C561.3 721.5 561.2 722.1 565.0 723.5 C568.8 724.9 574.4 727.0 580.3 727.7 C586.2 728.4 593.4 728.3 600.3 727.7 C607.2 727.1 616.6 724.2 621.7 724.0 C626.8 723.8 627.6 724.7 630.9 726.5 C634.2 728.3 638.0 732.0 641.6 735.0 C645.2 738.0 648.0 742.4 652.4 744.2 C656.8 746.0 665.2 745.5 667.7 745.8" fill="none" stroke="#f79646" stroke-width="2.5" stroke-linejoin="round" stroke-linecap="round"/>
<path d="M57.4 786.7 C67.0 786.2 101.2 784.6 115.0 783.5 C128.8 782.4 134.0 782.7 140.5 779.9 C147.0 777.1 149.9 772.9 153.8 766.6 C157.7 760.4 161.3 749.2 164.0 742.4 C166.7 735.6 168.0 732.1 170.0 726.0 C172.0 719.9 173.3 715.9 176.0 706.0 C178.7 696.1 183.0 676.6 186.1 666.4 C189.2 656.2 191.4 652.3 194.5 645.0 C197.6 637.7 201.8 627.8 204.4 622.5 C207.0 617.2 208.3 615.7 210.0 613.0 C211.7 610.3 212.8 608.0 214.7 606.5 C216.6 605.0 219.2 604.1 221.5 604.3 C223.8 604.5 226.1 604.9 228.5 607.8 C230.9 610.7 233.8 615.7 236.1 621.9 C238.4 628.1 240.3 637.2 242.6 645.0 C244.9 652.8 247.1 661.4 250.1 668.5 C253.1 675.6 258.0 683.9 260.6 687.8 C263.2 691.7 263.9 691.0 266.0 692.0 C268.1 693.0 270.6 694.0 272.9 693.9 C275.2 693.8 278.0 692.5 280.0 691.5 C282.0 690.5 283.4 689.4 285.1 687.8 C286.8 686.1 287.5 683.9 290.0 681.6 C292.5 679.3 295.9 678.5 300.0 673.8 C304.1 669.0 310.0 658.0 314.8 653.1 C319.6 648.2 324.2 646.9 328.7 644.4 C333.2 641.9 337.5 639.5 342.0 638.0 C346.5 636.5 351.9 635.9 355.7 635.6 C359.5 635.4 362.1 636.2 365.0 636.5 C367.9 636.8 370.7 638.4 373.2 637.1 C375.7 635.9 378.0 631.1 380.0 629.0 C382.0 626.9 382.0 628.3 385.0 624.5 C388.0 620.7 393.7 612.1 398.1 606.0 C402.5 599.9 407.6 591.9 411.3 587.8 C415.0 583.7 417.6 582.4 420.5 581.5 C423.4 580.6 426.0 583.0 428.4 582.5 C430.8 582.0 432.3 581.8 434.9 578.5 C437.5 575.2 441.8 566.6 444.1 563.0 C446.5 559.4 447.2 558.4 449.0 557.0 C450.8 555.6 452.9 554.9 454.6 554.8 C456.3 554.7 457.4 554.5 459.0 556.5 C460.6 558.5 460.7 558.2 464.0 566.8 C467.3 575.4 474.7 596.4 478.6 607.9 C482.5 619.4 484.5 626.4 487.4 635.7 C490.2 645.0 493.3 656.2 495.7 663.6 C498.1 671.0 499.9 675.4 502.0 680.0 C504.1 684.6 506.1 688.4 508.3 691.4 C510.5 694.4 512.1 696.1 515.0 698.0 C517.9 699.9 520.8 699.7 525.5 702.5 C530.2 705.3 537.6 711.4 543.0 714.9 C548.4 718.4 553.9 721.6 557.6 723.6 C561.3 725.6 561.2 725.5 565.0 726.6 C568.8 727.7 574.4 729.8 580.3 730.4 C586.2 731.0 593.4 730.8 600.3 730.4 C607.2 730.0 616.6 727.8 621.7 727.7 C626.8 727.6 627.6 728.3 630.9 730.0 C634.2 731.7 638.0 735.5 641.6 738.1 C645.2 740.7 648.0 744.0 652.4 745.8 C656.8 747.6 665.2 748.3 667.7 748.8" fill="none" stroke="#4d3b62" stroke-width="2.5" stroke-linejoin="round" stroke-linecap="round"/>
<path d="M57.4 783.2 C67.0 782.7 102.0 780.9 115.0 779.9 C128.0 778.9 130.0 779.8 135.4 777.5 C140.8 775.2 144.6 769.4 147.7 766.0 C150.8 762.6 151.6 760.9 154.0 757.0 C156.4 753.1 160.0 747.4 162.3 742.4 C164.6 737.4 166.1 732.9 168.0 727.0 C169.9 721.1 171.4 717.1 174.0 707.0 C176.6 696.9 180.8 676.9 183.6 666.4 C186.4 655.9 188.4 651.2 191.0 644.0 C193.6 636.8 196.7 629.2 199.0 623.0 C201.3 616.8 202.9 611.3 205.0 607.0 C207.1 602.7 209.6 599.6 211.5 597.0 C213.4 594.4 214.8 592.7 216.5 591.5 C218.2 590.3 219.5 589.5 221.5 590.0 C223.5 590.5 226.1 591.4 228.5 594.5 C230.9 597.6 233.6 602.6 236.1 608.5 C238.6 614.4 241.6 623.7 243.6 630.0 C245.6 636.3 245.8 639.9 248.0 646.5 C250.2 653.1 254.3 663.8 257.1 669.5 C259.9 675.2 262.4 678.0 265.0 680.5 C267.6 683.0 270.4 684.2 272.9 684.5 C275.4 684.8 277.7 683.2 280.0 682.0 C282.3 680.8 285.2 678.5 286.9 677.0 C288.6 675.5 287.8 675.5 290.0 673.0 C292.2 670.5 295.9 667.7 300.0 662.0 C304.1 656.3 310.0 644.5 314.8 639.0 C319.6 633.5 324.2 631.4 328.7 629.0 C333.2 626.6 337.5 625.5 342.0 624.5 C346.5 623.5 351.9 623.5 355.7 623.2 C359.5 623.0 362.1 623.0 365.0 623.0 C367.9 623.0 370.7 624.2 373.2 623.2 C375.7 622.2 377.2 619.4 380.0 617.0 C382.8 614.6 387.0 612.4 390.0 608.6 C393.0 604.8 395.0 600.1 398.1 594.0 C401.2 587.9 405.2 577.3 408.6 572.0 C412.0 566.7 415.2 563.7 418.6 562.0 C422.0 560.3 425.9 562.8 428.8 562.0 C431.7 561.2 433.6 560.5 436.2 557.5 C438.8 554.5 441.9 547.6 444.1 544.0 C446.3 540.4 447.7 538.0 449.5 536.0 C451.3 534.0 453.4 532.2 455.1 532.0 C456.9 531.8 458.5 533.1 460.0 535.0 C461.5 536.9 462.1 538.6 464.0 543.5 C465.9 548.4 467.6 554.0 471.1 564.5 C474.6 575.0 481.4 594.8 485.1 606.5 C488.8 618.2 490.6 625.1 493.4 634.5 C496.2 643.9 499.0 655.6 501.8 663.0 C504.6 670.4 507.0 674.9 510.0 679.0 C513.0 683.1 516.9 685.6 520.0 687.7 C523.1 689.8 524.6 689.2 528.4 691.5 C532.2 693.8 538.1 698.2 543.0 701.5 C547.9 704.8 553.9 708.4 557.6 711.0 C561.3 713.6 561.2 715.8 565.0 717.4 C568.8 719.0 574.4 720.0 580.3 720.5 C586.2 721.0 593.4 721.1 600.3 720.5 C607.2 719.9 616.6 716.9 621.7 716.6 C626.8 716.3 627.6 716.7 630.9 718.5 C634.2 720.3 638.0 724.4 641.6 727.4 C645.2 730.4 648.0 734.4 652.4 736.6 C656.8 738.8 665.2 739.8 667.7 740.4" fill="none" stroke="#5f7530" stroke-width="2.5" stroke-linejoin="round" stroke-linecap="round"/>
<path d="M57.4 780.8 C67.0 780.2 102.0 778.4 115.0 777.4 C128.0 776.4 130.0 777.1 135.4 774.8 C140.8 772.5 144.6 767.1 147.7 763.6 C150.8 760.1 151.8 757.5 154.0 754.0 C156.2 750.5 158.6 746.7 160.6 742.4 C162.6 738.1 164.1 733.7 166.0 728.0 C167.9 722.3 169.3 718.3 172.0 708.0 C174.7 697.7 179.0 677.1 181.9 666.4 C184.8 655.7 186.9 651.3 189.5 644.0 C192.1 636.7 194.9 628.8 197.2 622.5 C199.4 616.2 200.9 610.4 203.0 606.0 C205.1 601.6 207.6 598.6 209.5 596.0 C211.4 593.4 212.6 591.8 214.5 590.5 C216.4 589.2 218.7 587.6 221.0 588.0 C223.3 588.4 226.0 589.6 228.5 592.7 C231.0 595.8 233.6 600.8 236.1 606.7 C238.6 612.7 241.6 622.0 243.6 628.4 C245.6 634.8 245.8 638.3 248.0 645.0 C250.2 651.7 254.3 662.8 257.1 668.5 C259.9 674.2 262.4 676.5 265.0 679.0 C267.6 681.5 270.4 683.1 272.9 683.4 C275.4 683.7 277.7 682.3 280.0 681.0 C282.3 679.7 285.2 677.1 286.9 675.5 C288.6 673.9 287.8 674.0 290.0 671.4 C292.2 668.8 295.9 665.6 300.0 659.8 C304.1 654.0 310.0 641.8 314.8 636.4 C319.6 631.0 324.2 630.3 328.7 627.6 C333.2 624.9 337.5 621.8 342.0 620.0 C346.5 618.2 351.9 616.9 355.7 616.6 C359.5 616.3 362.1 617.5 365.0 618.0 C367.9 618.5 370.7 620.4 373.2 619.6 C375.7 618.8 378.0 614.7 380.0 613.0 C382.0 611.3 382.0 613.0 385.0 609.6 C388.0 606.2 394.2 598.7 398.1 592.6 C402.0 586.5 405.3 577.6 408.6 572.8 C411.9 567.9 414.5 564.9 417.8 563.5 C421.1 562.1 425.3 565.2 428.4 564.5 C431.5 563.8 433.6 562.5 436.2 559.5 C438.8 556.5 441.9 549.8 444.1 546.5 C446.3 543.2 447.7 541.1 449.5 539.5 C451.3 537.9 453.4 536.9 455.1 536.8 C456.9 536.7 458.5 537.4 460.0 539.0 C461.5 540.6 462.1 541.7 464.0 546.3 C465.9 550.9 467.6 556.5 471.1 566.8 C474.6 577.1 481.4 596.4 485.1 607.9 C488.8 619.4 490.6 626.4 493.4 635.7 C496.2 645.0 499.0 656.9 501.8 663.6 C504.6 670.3 507.0 672.9 510.0 676.0 C513.0 679.1 516.9 680.1 520.0 682.1 C523.1 684.1 524.6 685.1 528.4 687.9 C532.2 690.7 538.1 695.5 543.0 698.8 C547.9 702.1 553.9 705.1 557.6 707.6 C561.3 710.1 561.2 712.0 565.0 713.6 C568.8 715.2 574.4 716.6 580.3 717.4 C586.2 718.2 593.4 718.7 600.3 718.2 C607.2 717.7 616.6 714.7 621.7 714.3 C626.8 713.9 627.6 714.2 630.9 715.9 C634.2 717.6 638.0 721.4 641.6 724.3 C645.2 727.2 648.0 731.6 652.4 733.5 C656.8 735.4 665.2 735.4 667.7 735.8" fill="none" stroke="#276a7c" stroke-width="2.5" stroke-linejoin="round" stroke-linecap="round"/>
<path d="M57.4 778.1 C67.0 777.7 102.8 776.3 115.0 775.5 C127.2 774.8 126.1 774.7 130.3 773.6 C134.6 772.4 137.4 770.7 140.5 768.5 C143.6 766.3 145.8 764.5 148.7 760.3 C151.6 756.1 155.6 748.4 158.0 743.4 C160.4 738.3 161.2 735.8 163.0 730.1 C164.8 724.4 166.3 719.6 169.0 709.2 C171.7 698.8 176.5 678.2 179.3 667.5 C182.1 656.9 183.7 652.4 186.0 645.1 C188.3 637.8 190.8 630.1 192.9 623.5 C195.0 617.0 196.6 611.3 198.5 606.0 C200.4 600.7 202.8 595.8 204.5 592.0 C206.2 588.1 207.3 586.0 209.0 582.9 C210.7 579.9 212.4 576.2 214.5 573.8 C216.6 571.4 219.2 568.6 221.5 568.6 C223.8 568.6 226.1 570.2 228.5 573.8 C230.9 577.3 233.6 583.5 236.1 589.9 C238.6 596.3 241.1 604.5 243.6 612.3 C246.1 620.1 248.9 628.6 251.2 636.6 C253.4 644.6 254.8 654.6 257.1 660.1 C259.4 665.6 262.4 667.3 265.0 669.6 C267.6 671.8 270.4 673.1 272.9 673.4 C275.4 673.7 278.0 672.5 280.0 671.5 C282.0 670.5 283.4 669.2 285.1 667.2 C286.8 665.2 287.5 663.0 290.0 659.8 C292.5 656.6 297.2 651.8 300.0 648.0 C302.8 644.2 304.5 640.6 307.0 637.0 C309.5 633.4 312.5 629.0 314.8 626.2 C317.1 623.4 318.7 622.0 321.0 620.0 C323.3 618.0 325.2 616.5 328.7 614.5 C332.2 612.5 337.5 609.6 342.0 608.0 C346.5 606.4 351.9 605.2 355.7 605.0 C359.5 604.8 362.1 605.9 365.0 606.5 C367.9 607.1 370.7 609.6 373.2 608.6 C375.7 607.7 378.0 603.3 380.0 600.7 C382.0 598.0 382.4 596.7 385.0 592.9 C387.6 589.1 392.2 583.5 395.5 578.1 C398.8 572.7 401.6 565.9 404.7 560.7 C407.8 555.6 411.3 550.3 413.9 547.4 C416.5 544.5 418.1 544.2 420.5 543.3 C422.9 542.4 426.0 543.1 428.4 542.0 C430.8 540.9 432.6 539.4 434.9 536.9 C437.1 534.4 439.7 530.4 441.9 526.9 C444.1 523.4 445.8 518.8 448.0 516.0 C450.2 513.2 452.8 510.4 455.0 510.0 C457.2 509.6 459.0 511.3 461.0 513.5 C463.0 515.7 464.3 516.1 467.0 523.4 C469.7 530.7 474.5 548.0 477.3 557.3 C480.1 566.7 481.3 570.9 483.7 579.4 C486.1 587.8 488.9 598.5 491.6 608.1 C494.3 617.6 497.5 629.2 499.9 636.7 C502.3 644.2 504.0 648.6 506.0 653.1 C508.0 657.7 509.7 660.8 512.0 663.8 C514.3 666.8 516.9 669.1 519.6 671.1 C522.3 673.1 525.0 673.2 528.4 675.7 C531.8 678.2 535.7 682.3 540.1 686.2 C544.5 690.1 550.6 695.9 554.7 699.1 C558.9 702.3 560.7 703.4 565.0 705.3 C569.3 707.2 574.4 709.5 580.3 710.5 C586.2 711.6 593.4 712.1 600.3 711.7 C607.2 711.3 616.6 708.5 621.7 708.2 C626.8 708.0 627.6 708.2 630.9 710.2 C634.2 712.2 638.0 716.5 641.6 720.3 C645.2 724.2 648.0 730.6 652.4 733.3 C656.8 736.0 665.2 736.1 667.7 736.7" fill="none" stroke="#4f81bd" stroke-width="2.5" stroke-linejoin="round" stroke-linecap="round"/>
<path d="M57.4 777.5 C67.0 777.0 102.8 775.6 115.0 774.8 C127.2 774.0 126.1 774.0 130.3 772.8 C134.6 771.6 137.4 769.9 140.5 767.7 C143.6 765.5 145.8 763.7 148.7 759.5 C151.6 755.3 155.6 747.5 158.0 742.4 C160.4 737.3 161.2 734.7 163.0 729.0 C164.8 723.3 166.3 718.4 169.0 708.0 C171.7 697.6 176.5 677.1 179.3 666.4 C182.1 655.7 183.7 651.3 186.0 644.0 C188.3 636.7 190.8 629.0 192.9 622.5 C195.0 616.0 196.6 610.2 198.5 605.0 C200.4 599.8 202.8 595.2 204.5 591.5 C206.2 587.8 207.3 585.8 209.0 583.0 C210.7 580.2 212.4 576.7 214.5 574.5 C216.6 572.3 219.2 570.0 221.5 570.0 C223.8 570.0 226.1 571.1 228.5 574.3 C230.9 577.5 233.6 583.3 236.1 589.4 C238.6 595.5 241.1 603.5 243.6 611.1 C246.1 618.7 248.9 627.1 251.2 634.9 C253.4 642.7 254.8 652.6 257.1 658.0 C259.4 663.4 262.4 664.9 265.0 667.0 C267.6 669.1 270.4 670.1 272.9 670.4 C275.4 670.6 278.0 669.5 280.0 668.5 C282.0 667.5 283.4 666.2 285.1 664.2 C286.8 662.2 287.5 660.0 290.0 656.8 C292.5 653.6 297.2 648.8 300.0 645.0 C302.8 641.2 304.5 637.6 307.0 634.0 C309.5 630.4 312.5 626.0 314.8 623.2 C317.1 620.4 318.7 619.0 321.0 617.0 C323.3 615.0 325.2 613.5 328.7 611.5 C332.2 609.5 337.5 606.6 342.0 605.0 C346.5 603.4 351.9 602.2 355.7 602.0 C359.5 601.8 362.1 602.9 365.0 603.5 C367.9 604.1 370.7 606.3 373.2 605.7 C375.7 605.1 378.0 602.0 380.0 600.0 C382.0 598.0 382.4 597.3 385.0 593.9 C387.6 590.5 392.2 584.7 395.5 579.4 C398.8 574.1 401.6 567.3 404.7 562.3 C407.8 557.3 411.3 552.0 413.9 549.2 C416.5 546.4 418.1 546.1 420.5 545.3 C422.9 544.5 426.0 545.5 428.4 544.6 C430.8 543.7 432.6 542.4 434.9 540.0 C437.1 537.6 439.7 533.8 441.9 530.5 C444.1 527.2 445.8 522.7 448.0 520.0 C450.2 517.3 452.8 515.0 455.0 514.5 C457.2 514.0 459.0 515.1 461.0 517.0 C463.0 518.9 464.3 519.0 467.0 525.9 C469.7 532.8 474.5 549.6 477.3 558.6 C480.1 567.6 481.3 571.8 483.7 580.0 C486.1 588.2 488.9 598.6 491.6 607.9 C494.3 617.2 497.5 628.4 499.9 635.7 C502.3 643.1 504.0 647.5 506.0 652.0 C508.0 656.5 509.7 659.6 512.0 662.5 C514.3 665.4 516.9 667.7 519.6 669.6 C522.3 671.5 525.0 671.6 528.4 674.0 C531.8 676.4 535.7 680.6 540.1 684.2 C544.5 687.9 550.6 693.0 554.7 695.9 C558.9 698.8 560.7 699.4 565.0 701.3 C569.3 703.2 574.4 706.0 580.3 707.4 C586.2 708.8 593.4 709.9 600.3 709.7 C607.2 709.5 616.6 706.5 621.7 706.2 C626.8 706.0 627.6 706.2 630.9 708.2 C634.2 710.2 638.0 714.5 641.6 718.2 C645.2 721.9 648.0 728.0 652.4 730.4 C656.8 732.8 665.2 732.3 667.7 732.7" fill="none" stroke="#bb5e22" stroke-width="2.5" stroke-linejoin="round" stroke-linecap="round"/>
<path d="M57.4 772.0 C67.3 771.8 104.9 771.6 117.0 771.0 C129.1 770.4 126.4 769.7 130.0 768.5 C133.6 767.3 135.9 765.8 138.5 763.6 C141.1 761.4 143.0 758.9 145.7 755.4 C148.4 751.9 152.3 747.3 154.7 742.4 C157.1 737.5 158.1 732.4 160.0 726.0 C161.9 719.6 163.5 713.9 166.0 704.0 C168.5 694.1 172.5 676.4 175.1 666.4 C177.7 656.4 179.4 651.3 181.5 644.0 C183.6 636.7 185.2 631.3 187.8 622.5 C190.4 613.7 195.0 598.5 197.2 591.1 C199.4 583.7 199.2 582.9 200.9 578.0 C202.6 573.1 204.8 566.4 207.1 561.9 C209.4 557.4 211.9 553.4 214.5 550.7 C217.1 548.0 220.2 546.2 222.5 545.8 C224.8 545.4 226.2 545.7 228.5 548.3 C230.8 550.9 233.6 555.5 236.1 561.3 C238.6 567.1 241.3 575.5 243.6 582.9 C245.9 590.3 247.9 598.1 250.1 605.6 C252.2 613.1 254.5 621.8 256.5 628.0 C258.5 634.2 260.4 639.4 262.3 643.0 C264.2 646.6 266.1 648.2 268.0 649.5 C269.9 650.8 271.8 651.3 274.0 651.0 C276.2 650.7 278.6 649.2 281.0 647.5 C283.4 645.8 286.3 643.4 288.6 640.5 C290.9 637.6 292.3 634.8 295.0 630.0 C297.7 625.2 301.7 617.3 305.0 612.0 C308.3 606.7 310.9 601.9 314.8 598.4 C318.8 594.9 324.2 593.0 328.7 591.1 C333.2 589.2 337.5 588.0 342.0 587.0 C346.5 586.0 351.9 585.3 355.7 585.3 C359.5 585.3 362.1 586.4 365.0 587.0 C367.9 587.6 370.9 589.4 373.2 588.9 C375.5 588.4 377.0 586.0 379.0 584.0 C381.0 582.0 382.7 579.8 385.0 576.8 C387.3 573.8 390.0 570.2 392.9 566.3 C395.8 562.3 399.5 557.5 402.1 553.1 C404.7 548.7 406.5 543.7 408.6 540.0 C410.8 536.3 413.1 533.2 415.0 531.0 C416.9 528.8 417.7 527.6 420.0 526.9 C422.3 526.2 426.3 528.4 428.8 526.9 C431.3 525.4 432.8 521.3 435.0 518.0 C437.2 514.7 439.7 510.4 441.9 507.2 C444.1 504.0 445.8 500.9 448.0 499.0 C450.2 497.1 453.1 495.8 455.0 495.5 C456.9 495.2 458.0 496.3 459.5 497.5 C461.0 498.7 462.7 501.2 463.8 502.8 C464.9 504.4 465.0 505.0 466.0 507.0 C467.0 509.0 468.1 509.6 470.0 514.8 C471.9 520.0 475.1 529.6 477.7 538.0 C480.3 546.4 483.6 558.1 485.5 565.1 C487.4 572.1 487.0 572.9 488.8 580.0 C490.6 587.1 493.4 598.6 496.2 607.9 C499.0 617.2 502.9 629.5 505.5 635.7 C508.1 641.9 509.6 642.5 512.0 645.0 C514.4 647.5 517.3 649.1 520.0 650.6 C522.7 652.1 525.0 651.8 528.4 654.3 C531.8 656.8 535.7 661.3 540.1 665.3 C544.5 669.3 550.6 675.2 554.7 678.4 C558.9 681.6 560.7 682.7 565.0 684.5 C569.3 686.3 574.4 688.1 580.3 689.0 C586.2 689.9 593.4 690.3 600.3 689.8 C607.2 689.2 616.6 685.7 621.7 685.7 C626.8 685.7 627.6 687.2 630.9 689.8 C634.2 692.4 638.3 697.8 641.6 701.3 C644.9 704.8 648.1 708.5 650.8 710.5 C653.5 712.5 655.2 712.8 658.0 713.5 C660.8 714.2 666.1 714.6 667.7 714.8" fill="none" stroke="#4bacc6" stroke-width="2.5" stroke-linejoin="round" stroke-linecap="round"/>
<path d="M57.4 771.4 C67.3 771.2 105.2 770.6 117.0 770.0 C128.8 769.4 124.8 769.1 128.0 768.0 C131.2 766.9 133.6 765.5 136.0 763.5 C138.4 761.5 140.5 758.6 142.6 756.0 C144.7 753.4 146.8 751.2 148.7 748.0 C150.6 744.8 152.3 740.8 153.8 737.0 C155.3 733.2 156.5 729.7 157.9 725.0 C159.3 720.3 160.7 714.5 162.0 709.0 C163.3 703.5 164.7 698.2 166.0 692.0 C167.3 685.8 168.5 679.4 170.0 672.0 C171.5 664.6 173.4 654.6 175.0 647.6 C176.6 640.6 178.3 635.8 179.7 630.0 C181.1 624.2 182.2 618.8 183.5 613.0 C184.8 607.2 186.0 601.3 187.6 595.0 C189.2 588.7 191.1 581.8 193.0 575.0 C194.9 568.2 196.8 560.7 199.0 554.0 C201.2 547.3 203.5 540.7 206.0 535.0 C208.5 529.3 211.1 523.4 214.0 520.0 C216.9 516.6 220.7 514.7 223.5 514.5 C226.3 514.3 228.8 516.1 231.0 519.0 C233.2 521.9 234.9 526.0 237.0 532.0 C239.1 538.0 241.4 547.2 243.6 555.0 C245.8 562.8 247.8 571.3 250.0 579.0 C252.2 586.7 254.4 594.8 256.6 601.0 C258.8 607.2 260.8 612.2 263.0 616.0 C265.2 619.8 268.0 622.0 270.0 623.5 C272.0 625.0 273.0 625.5 275.0 625.0 C277.0 624.5 279.5 623.0 282.0 620.5 C284.5 618.0 286.7 615.1 290.0 610.0 C293.3 604.9 297.9 596.3 302.0 590.0 C306.1 583.7 311.6 576.1 314.8 572.1 C318.0 568.1 318.7 567.7 321.0 566.0 C323.3 564.3 325.9 563.2 328.7 561.9 C331.5 560.6 334.7 559.0 338.0 558.0 C341.3 557.0 344.7 556.4 348.4 556.1 C352.1 555.8 356.6 555.8 360.0 556.1 C363.4 556.5 366.4 557.9 368.8 558.2 C371.2 558.6 372.8 559.2 374.7 558.2 C376.6 557.2 378.3 554.9 380.0 552.0 C381.7 549.1 383.3 543.7 385.0 541.0 C386.7 538.3 387.8 540.2 390.0 536.0 C392.2 531.8 395.2 522.1 398.0 516.0 C400.8 509.9 404.4 503.2 406.9 499.2 C409.4 495.2 410.8 493.6 413.0 492.0 C415.2 490.4 417.4 490.1 420.0 489.6 C422.6 489.1 426.5 490.2 428.8 488.9 C431.1 487.6 432.1 485.1 434.0 482.0 C435.9 478.9 438.4 473.4 440.5 470.0 C442.6 466.6 444.6 464.2 446.3 461.9 C448.1 459.6 449.4 457.5 451.0 456.0 C452.6 454.5 453.9 452.9 455.8 453.1 C457.7 453.4 460.5 455.4 462.3 457.5 C464.1 459.6 465.0 462.2 466.5 466.0 C468.0 469.8 469.3 474.4 471.2 480.0 C473.1 485.6 475.3 492.1 477.7 499.3 C480.1 506.5 483.2 515.8 485.5 523.3 C487.8 530.8 490.0 538.1 491.7 544.2 C493.4 550.3 494.4 554.4 495.5 560.0 C496.6 565.6 497.7 573.8 498.6 578.0 C499.5 582.2 499.3 580.4 500.9 585.5 C502.5 590.6 505.8 603.0 508.2 608.8 C510.6 614.6 513.5 617.8 515.5 620.5 C517.5 623.2 518.5 623.7 520.0 625.0 C521.5 626.3 522.8 627.4 524.2 628.5 C525.6 629.6 525.8 628.7 528.4 631.7 C531.0 634.7 536.2 641.7 540.1 646.3 C544.0 650.9 547.6 655.8 551.8 659.4 C555.9 663.0 560.8 665.2 565.0 667.6 C569.2 670.0 572.2 672.2 577.3 673.7 C582.4 675.2 590.6 676.2 595.7 676.5 C600.8 676.8 603.6 676.1 607.9 675.6 C612.2 675.1 617.9 673.2 621.7 673.4 C625.5 673.6 627.6 673.9 630.9 676.8 C634.2 679.7 638.3 686.3 641.6 690.6 C644.9 694.9 648.1 700.1 650.8 702.8 C653.5 705.5 655.2 706.0 658.0 707.0 C660.8 708.0 666.1 708.7 667.7 709.0" fill="none" stroke="#7ea3d4" stroke-width="2.5" stroke-linejoin="round" stroke-linecap="round"/>
<path d="M57.4 768.1 C67.0 767.9 103.7 767.2 115.0 766.8 C126.3 766.4 121.6 766.5 125.0 765.5 C128.4 764.5 132.3 762.9 135.4 760.5 C138.5 758.1 141.1 754.3 143.6 751.3 C146.1 748.3 148.3 746.9 150.5 742.4 C152.7 737.9 154.9 730.6 157.0 724.0 C159.1 717.4 160.5 712.6 163.0 703.0 C165.5 693.4 169.4 676.2 172.0 666.4 C174.6 656.6 176.3 651.3 178.5 644.0 C180.7 636.7 182.7 630.7 185.0 622.5 C187.3 614.3 189.8 604.4 192.5 595.0 C195.2 585.6 198.5 573.7 200.9 566.0 C203.3 558.3 204.8 553.8 207.1 549.0 C209.4 544.2 211.8 539.8 214.5 537.1 C217.2 534.4 220.4 532.4 223.1 532.8 C225.8 533.2 228.2 535.6 230.7 539.6 C233.2 543.6 235.9 550.1 238.2 557.0 C240.5 563.9 242.3 572.9 244.7 580.8 C247.0 588.7 249.8 597.8 252.3 604.6 C254.8 611.5 257.8 617.9 259.9 621.9 C262.0 625.9 263.2 626.9 265.0 628.5 C266.8 630.1 268.9 631.0 270.7 631.6 C272.5 632.2 273.9 632.6 276.0 632.0 C278.1 631.4 280.7 630.2 283.0 628.0 C285.3 625.8 286.8 623.8 290.0 618.8 C293.2 613.8 297.9 604.3 302.0 598.0 C306.1 591.7 310.4 585.1 314.8 580.9 C319.2 576.7 323.6 575.4 328.7 572.8 C333.8 570.2 340.8 567.0 345.5 565.5 C350.2 564.0 353.6 564.0 357.2 564.1 C360.8 564.2 364.0 566.3 367.4 566.3 C370.8 566.3 374.7 565.8 377.6 564.1 C380.5 562.4 382.9 558.8 385.0 556.0 C387.1 553.2 387.8 551.6 390.0 547.3 C392.2 543.0 395.2 535.6 398.0 530.0 C400.8 524.4 404.4 517.3 406.9 513.5 C409.4 509.7 410.8 508.3 413.0 507.0 C415.2 505.7 417.6 505.6 420.0 505.5 C422.4 505.4 424.4 508.2 427.3 506.5 C430.2 504.8 434.3 499.6 437.5 495.0 C440.7 490.4 444.1 482.5 446.3 479.0 C448.6 475.5 449.4 475.1 451.0 474.0 C452.6 472.9 454.3 472.3 455.8 472.5 C457.3 472.7 458.7 473.8 460.0 475.0 C461.3 476.2 462.5 477.7 463.8 480.0 C465.1 482.3 466.3 485.4 468.0 489.0 C469.7 492.6 471.6 495.5 473.9 501.7 C476.2 507.9 479.0 517.8 481.6 526.4 C484.2 535.0 487.0 544.6 489.3 553.5 C491.6 562.4 493.4 570.9 495.5 580.0 C497.6 589.1 500.1 601.1 502.2 607.9 C504.3 614.6 505.8 617.0 508.0 620.5 C510.2 624.0 512.8 626.2 515.7 628.8 C518.6 631.4 521.4 632.0 525.5 636.1 C529.6 640.2 535.2 648.5 540.1 653.6 C545.0 658.7 550.6 663.6 554.7 666.7 C558.9 669.8 560.7 670.0 565.0 672.2 C569.3 674.4 574.4 678.0 580.3 679.9 C586.2 681.8 593.4 683.4 600.3 683.7 C607.2 684.0 616.6 681.3 621.7 681.7 C626.8 682.1 627.6 683.5 630.9 686.0 C634.2 688.5 638.3 693.4 641.6 696.7 C644.9 700.0 646.4 703.6 650.8 706.0 C655.1 708.4 664.9 710.2 667.7 711.0" fill="none" stroke="#00b050" stroke-width="2.5" stroke-linejoin="round" stroke-linecap="round"/>
<path d="M57.4 768.8 C62.8 768.6 80.4 768.0 90.0 767.8 C99.6 767.6 109.1 767.9 115.0 767.7 C120.9 767.5 121.8 767.6 125.2 766.6 C128.6 765.6 132.5 763.4 135.4 761.5 C138.3 759.6 139.9 758.6 142.6 755.4 C145.2 752.2 148.8 747.7 151.3 742.4 C153.9 737.1 156.0 730.1 157.9 723.7 C159.8 717.3 160.6 713.5 163.0 704.0 C165.4 694.5 169.8 676.4 172.5 666.4 C175.2 656.4 177.0 651.5 179.0 644.0 C181.0 636.5 182.6 629.7 184.5 621.5 C186.4 613.3 188.8 602.9 190.5 595.0 C192.2 587.1 193.0 581.4 194.7 574.2 C196.4 567.0 198.6 559.0 200.9 552.0 C203.2 545.0 205.6 537.8 208.3 532.2 C211.0 526.6 214.3 521.9 217.0 518.6 C219.7 515.3 222.0 512.5 224.4 512.4 C226.8 512.3 229.6 514.7 231.7 518.0 C233.8 521.3 235.2 526.1 237.2 532.1 C239.2 538.1 241.4 546.5 243.6 553.7 C245.8 560.9 247.9 568.1 250.1 575.3 C252.3 582.5 254.4 591.0 256.6 597.0 C258.8 603.0 260.9 607.7 263.1 611.1 C265.3 614.5 267.8 616.4 269.6 617.6 C271.4 618.8 272.1 619.1 274.0 618.3 C275.9 617.5 278.3 615.8 281.0 613.0 C283.7 610.2 286.5 606.1 290.0 601.3 C293.5 596.5 299.0 588.5 302.0 584.0 C305.0 579.5 306.1 576.3 308.0 574.0 C309.9 571.7 311.8 570.6 313.5 570.0 C315.2 569.4 316.4 570.1 318.0 570.5 C319.6 570.9 321.2 571.9 323.0 572.5 C324.8 573.1 325.9 573.5 328.7 574.3 C331.5 575.1 336.4 577.2 339.6 577.2 C342.8 577.2 345.3 575.5 348.0 574.5 C350.7 573.5 353.2 572.5 355.7 571.4 C358.2 570.3 360.1 568.6 363.0 567.7 C365.9 566.9 370.4 567.6 373.2 566.3 C376.0 565.0 378.0 562.4 380.0 560.0 C382.0 557.6 383.3 554.4 385.0 551.8 C386.7 549.2 387.8 548.4 390.0 544.4 C392.2 540.4 395.2 533.4 398.0 528.0 C400.8 522.6 404.4 516.0 406.9 512.3 C409.4 508.6 410.8 507.4 413.0 506.0 C415.2 504.6 417.6 504.2 420.0 504.2 C422.4 504.1 424.4 507.4 427.3 505.7 C430.2 504.0 434.3 498.6 437.5 494.0 C440.7 489.4 444.1 481.5 446.3 478.0 C448.6 474.5 449.4 474.1 451.0 473.0 C452.6 471.9 454.3 471.2 455.8 471.4 C457.3 471.6 458.7 472.7 460.0 474.0 C461.3 475.3 462.7 477.6 463.8 479.4 C464.9 481.2 465.5 482.8 466.5 485.0 C467.5 487.2 468.1 487.4 470.0 492.4 C471.9 497.4 475.1 506.5 477.7 514.8 C480.3 523.0 483.6 534.4 485.5 541.9 C487.4 549.4 487.9 554.0 489.0 560.0 C490.1 566.0 491.3 572.7 492.4 578.0 C493.5 583.3 494.4 587.0 495.5 592.0 C496.6 597.0 497.6 602.9 499.0 607.9 C500.4 612.9 502.1 617.6 504.0 622.0 C505.9 626.4 508.1 631.6 510.1 634.5 C512.1 637.4 513.9 638.0 516.0 639.5 C518.1 641.0 520.5 642.1 522.6 643.4 C524.7 644.6 526.5 645.1 528.4 647.0 C530.3 648.9 531.3 652.2 534.2 655.0 C537.1 657.8 542.0 660.6 545.9 663.8 C549.8 667.0 554.4 671.5 557.6 674.0 C560.8 676.5 561.2 677.5 565.0 679.1 C568.8 680.7 575.2 682.7 580.3 683.7 C585.4 684.7 591.1 685.3 595.7 685.2 C600.3 685.1 603.6 684.2 607.9 682.9 C612.2 681.6 617.9 677.6 621.7 677.6 C625.5 677.6 627.6 679.7 630.9 682.9 C634.2 686.1 638.3 692.6 641.6 696.7 C644.9 700.8 648.1 705.1 650.8 707.4 C653.5 709.7 655.2 709.8 658.0 710.5 C660.8 711.2 666.1 711.5 667.7 711.7" fill="none" stroke="#da2329" stroke-width="2.5" stroke-linejoin="round" stroke-linecap="round"/>
<rect x="200.7" y="492" width="37.3" height="326.0" fill="rgb(128,129,136)" fill-opacity="0.5"/>
<rect x="292.2" y="492" width="36.6" height="326.0" fill="rgb(128,129,136)" fill-opacity="0.5"/>
<rect x="607.2" y="492" width="36.9" height="326.0" fill="rgb(128,129,136)" fill-opacity="0.5"/>
<path d="M57.4 749.4 C61.2 749.5 72.9 750.2 80.0 750.3 C87.1 750.4 94.2 750.0 100.0 749.8 C105.8 749.6 110.8 749.5 115.0 749.3 C119.2 749.1 122.1 749.2 125.2 748.8 C128.3 748.4 130.9 747.8 133.4 746.7 C135.9 745.6 138.1 744.2 140.2 742.4 C142.2 740.6 143.9 738.4 145.7 736.0 C147.5 733.6 149.1 731.2 150.8 727.8 C152.5 724.4 154.4 719.8 155.9 715.5 C157.4 711.2 158.5 707.2 160.0 702.3 C161.5 697.4 163.2 692.0 165.0 686.0 C166.8 680.0 168.8 673.4 170.8 666.4 C172.8 659.4 174.9 651.3 177.0 644.0 C179.1 636.7 181.3 631.0 183.6 622.5 C185.9 614.0 187.7 603.1 190.6 593.0 C193.5 582.9 198.2 570.2 200.9 561.9 C203.7 553.6 204.8 548.2 207.1 543.3 C209.4 538.3 211.8 535.1 214.5 532.2 C217.2 529.4 220.0 525.9 223.1 526.2 C226.2 526.5 230.3 530.9 232.8 534.2 C235.3 537.5 236.4 540.9 238.2 546.1 C240.0 551.3 241.6 558.4 243.6 565.6 C245.6 572.8 247.9 582.2 250.1 589.4 C252.3 596.6 254.4 603.5 256.6 608.9 C258.8 614.3 260.8 618.8 263.1 621.9 C265.5 625.0 268.6 626.4 270.7 627.3 C272.8 628.2 274.1 628.0 276.0 627.5 C277.9 627.0 279.7 626.2 282.0 624.0 C284.3 621.8 286.7 619.0 290.0 614.5 C293.3 610.0 297.9 602.6 302.0 597.0 C306.1 591.4 310.4 584.7 314.8 580.9 C319.2 577.1 324.8 575.9 328.7 574.3 C332.6 572.7 334.4 573.2 338.2 571.4 C342.0 569.6 347.4 565.9 351.3 563.4 C355.2 560.9 358.7 557.7 361.5 556.1 C364.3 554.5 365.8 554.5 368.0 554.0 C370.2 553.5 372.7 553.9 374.7 553.1 C376.7 552.3 378.3 550.7 380.0 549.0 C381.7 547.3 382.5 547.0 385.0 543.0 C387.5 539.0 391.4 531.1 395.0 525.0 C398.6 518.9 403.7 510.8 406.9 506.5 C410.1 502.2 411.8 500.7 414.0 499.0 C416.2 497.3 417.5 496.9 420.0 496.2 C422.5 495.5 425.9 496.8 428.8 494.7 C431.7 492.6 434.6 488.5 437.5 483.8 C440.4 479.1 443.9 470.4 446.3 466.3 C448.7 462.2 450.1 460.8 452.0 459.0 C453.9 457.2 456.2 456.1 458.0 455.8 C459.8 455.6 461.1 456.2 462.5 457.5 C463.9 458.8 464.7 459.6 466.7 463.4 C468.7 467.1 472.4 474.6 474.6 480.0 C476.8 485.4 478.3 490.3 480.1 495.5 C481.9 500.7 484.0 505.9 485.5 511.0 C487.0 516.1 488.0 521.9 489.3 526.4 C490.6 530.9 491.9 534.1 493.2 538.0 C494.5 541.9 495.8 545.8 497.1 549.7 C498.4 553.6 499.8 557.3 501.0 561.3 C502.2 565.3 503.3 569.7 504.5 573.5 C505.7 577.3 506.9 581.0 508.0 584.0 C509.1 587.0 509.4 588.4 511.1 591.3 C512.8 594.2 516.0 598.7 518.4 601.5 C520.8 604.3 523.1 605.0 525.7 608.1 C528.3 611.2 530.8 616.1 534.2 620.0 C537.6 623.9 542.0 627.6 545.9 631.7 C549.8 635.8 554.4 641.5 557.6 644.8 C560.8 648.1 561.7 649.2 565.0 651.5 C568.3 653.8 573.5 656.7 577.3 658.4 C581.1 660.1 583.9 660.5 588.0 661.5 C592.1 662.5 597.5 664.4 601.8 664.5 C606.1 664.6 610.4 662.9 614.0 662.2 C617.6 661.5 620.4 659.9 623.2 660.2 C626.0 660.5 628.3 661.3 630.9 663.8 C633.5 666.3 635.8 671.3 638.6 675.3 C641.4 679.2 644.7 684.6 647.8 687.5 C650.9 690.4 653.7 691.4 657.0 692.9 C660.3 694.4 665.9 696.1 667.7 696.7" fill="none" stroke="#000000" stroke-width="2.8" stroke-linejoin="round" stroke-linecap="round"/>
<g shape-rendering="crispEdges">
<line x1="51.8" y1="879.3" x2="51.8" y2="1252.6" stroke="#d9d9d9" stroke-width="1"/>
<line x1="155.1" y1="879.3" x2="155.1" y2="1252.6" stroke="#d9d9d9" stroke-width="1"/>
<line x1="258.4" y1="879.3" x2="258.4" y2="1252.6" stroke="#d9d9d9" stroke-width="1"/>
<line x1="361.7" y1="879.3" x2="361.7" y2="1252.6" stroke="#d9d9d9" stroke-width="1"/>
<line x1="465.0" y1="879.3" x2="465.0" y2="1252.6" stroke="#d9d9d9" stroke-width="1"/>
<line x1="568.3" y1="879.3" x2="568.3" y2="1252.6" stroke="#d9d9d9" stroke-width="1"/>
<line x1="671.6" y1="879.3" x2="671.6" y2="1252.6" stroke="#d9d9d9" stroke-width="1"/>
<line x1="51.8" y1="1177.9" x2="671.6" y2="1177.9" stroke="#d9d9d9" stroke-width="1"/>
<line x1="51.8" y1="1103.3" x2="671.6" y2="1103.3" stroke="#d9d9d9" stroke-width="1"/>
<line x1="51.8" y1="1028.6" x2="671.6" y2="1028.6" stroke="#d9d9d9" stroke-width="1"/>
<line x1="51.8" y1="954.0" x2="671.6" y2="954.0" stroke="#d9d9d9" stroke-width="1"/>
<line x1="51.8" y1="879.3" x2="671.6" y2="879.3" stroke="#d9d9d9" stroke-width="1"/>
</g>
<line x1="51.8" y1="1252.6" x2="671.6" y2="1252.6" stroke="#d0d0d0" stroke-width="1.5"/>
<text x="40.9" y="1256.2" font-size="10.2" text-anchor="end" fill="#595959" stroke="#595959" stroke-width="0.3">0</text>
<text x="40.9" y="1181.5" font-size="10.2" text-anchor="end" fill="#595959" stroke="#595959" stroke-width="0.3">0.05</text>
<text x="40.9" y="1106.9" font-size="10.2" text-anchor="end" fill="#595959" stroke="#595959" stroke-width="0.3">0.1</text>
<text x="40.9" y="1032.2" font-size="10.2" text-anchor="end" fill="#595959" stroke="#595959" stroke-width="0.3">0.15</text>
<text x="40.9" y="957.6" font-size="10.2" text-anchor="end" fill="#595959" stroke="#595959" stroke-width="0.3">0.2</text>
<text x="40.9" y="882.9" font-size="10.2" text-anchor="end" fill="#595959" stroke="#595959" stroke-width="0.3">0.25</text>
<text x="51.8" y="1271.7" font-size="10.2" text-anchor="middle" fill="#595959" stroke="#595959" stroke-width="0.3">1800</text>
<text x="155.1" y="1271.7" font-size="10.2" text-anchor="middle" fill="#595959" stroke="#595959" stroke-width="0.3">1700</text>
<text x="258.4" y="1271.7" font-size="10.2" text-anchor="middle" fill="#595959" stroke="#595959" stroke-width="0.3">1600</text>
<text x="361.7" y="1271.7" font-size="10.2" text-anchor="middle" fill="#595959" stroke="#595959" stroke-width="0.3">1500</text>
<text x="465.0" y="1271.7" font-size="10.2" text-anchor="middle" fill="#595959" stroke="#595959" stroke-width="0.3">1400</text>
<text x="568.3" y="1271.7" font-size="10.2" text-anchor="middle" fill="#595959" stroke="#595959" stroke-width="0.3">1300</text>
<text x="671.6" y="1271.7" font-size="10.2" text-anchor="middle" fill="#595959" stroke="#595959" stroke-width="0.3">1200</text>
<text x="362.1" y="1288.2" font-size="10.5" text-anchor="middle" fill="#595959" stroke="#595959" stroke-width="0.3">Wavenumber (cm-1)</text>
<text transform="translate(14.9 1065.9) rotate(-90)" font-size="10.4" text-anchor="middle" fill="#595959" stroke="#595959" stroke-width="0.3">Absorbance</text>
<text x="68.7" y="915.6" font-size="27.0" text-anchor="start" fill="#111" transform="translate(68.7 0) scale(0.95 1) translate(-68.7 0)">C</text>
<path d="M51.8 1246.2 C56.5 1246.1 70.3 1245.8 80.0 1245.5 C89.7 1245.2 100.1 1244.8 110.0 1244.6 C119.9 1244.4 131.9 1244.6 139.2 1244.4 C146.5 1244.2 148.9 1244.3 153.8 1243.6 C158.7 1242.9 163.5 1241.1 168.4 1240.3 C173.3 1239.5 178.1 1239.0 183.0 1238.5 C187.9 1238.0 193.1 1237.4 197.6 1237.1 C202.1 1236.8 206.5 1236.7 210.0 1236.4 C213.5 1236.1 213.3 1235.3 218.4 1235.3 C223.5 1235.2 234.2 1236.1 240.3 1236.1 C246.4 1236.1 247.7 1235.7 255.0 1235.5 C262.3 1235.3 276.6 1234.8 284.2 1234.8 C291.8 1234.8 295.9 1235.9 300.3 1235.5 C304.7 1235.1 307.1 1232.9 310.5 1232.6 C313.9 1232.2 316.6 1234.4 320.7 1233.4 C324.8 1232.4 330.4 1229.5 335.3 1226.8 C340.2 1224.1 345.0 1220.7 350.0 1217.4 C355.0 1214.2 359.6 1210.3 365.5 1207.3 C371.4 1204.3 379.9 1202.0 385.6 1199.6 C391.4 1197.2 395.6 1195.1 400.0 1193.0 C404.4 1190.9 408.7 1187.9 411.9 1187.2 C415.1 1186.5 416.7 1188.2 419.0 1189.0 C421.3 1189.8 422.9 1192.6 425.9 1191.8 C428.8 1191.0 433.1 1186.0 436.7 1184.1 C440.3 1182.2 444.4 1180.7 447.4 1180.6 C450.4 1180.5 451.5 1180.6 454.7 1183.5 C457.9 1186.4 462.3 1192.8 466.5 1198.2 C470.7 1203.6 475.3 1210.8 480.0 1215.7 C484.7 1220.6 489.7 1224.2 494.6 1227.4 C499.5 1230.6 503.1 1232.8 509.2 1234.7 C515.3 1236.7 523.8 1238.1 531.1 1239.1 C538.4 1240.1 545.7 1240.1 553.0 1240.5 C560.3 1240.9 564.0 1241.6 575.0 1241.7 C586.0 1241.8 606.6 1241.4 618.8 1241.2 C631.0 1241.0 639.2 1241.0 648.0 1240.5 C656.8 1240.0 667.5 1238.7 671.4 1238.3" fill="none" stroke="#4a3768" stroke-width="2.4" stroke-linejoin="round" stroke-linecap="round"/>
<path d="M51.8 1242.6 C56.5 1242.5 70.3 1242.2 80.0 1242.0 C89.7 1241.8 100.1 1241.6 110.0 1241.2 C119.9 1240.8 131.9 1241.0 139.2 1239.8 C146.5 1238.6 148.9 1236.1 153.8 1234.2 C158.7 1232.3 163.5 1230.4 168.4 1228.2 C173.3 1226.0 178.6 1223.3 183.0 1221.2 C187.4 1219.1 191.3 1216.8 194.7 1215.5 C198.1 1214.2 200.2 1214.0 203.4 1213.5 C206.6 1213.0 210.3 1212.9 214.0 1212.5 C217.7 1212.1 221.3 1212.0 225.7 1211.0 C230.1 1210.0 235.4 1208.7 240.3 1206.5 C245.2 1204.3 249.4 1200.0 255.0 1197.6 C260.6 1195.1 267.7 1193.8 274.0 1191.8 C280.3 1189.8 287.2 1186.5 293.0 1185.9 C298.8 1185.3 303.6 1186.9 309.0 1188.1 C314.4 1189.3 320.6 1193.4 325.1 1193.2 C329.6 1193.0 331.9 1191.6 336.0 1187.0 C340.1 1182.4 345.1 1171.7 350.0 1165.5 C354.9 1159.3 360.3 1154.4 365.5 1150.0 C370.7 1145.6 375.9 1144.6 381.0 1139.2 C386.1 1133.8 391.0 1124.7 396.4 1117.5 C401.8 1110.3 409.7 1099.4 413.5 1095.9 C417.3 1092.4 416.9 1096.0 419.0 1096.5 C421.1 1097.0 422.9 1100.8 425.9 1098.9 C428.8 1097.0 433.7 1089.5 436.7 1085.0 C439.7 1080.5 441.7 1075.2 444.0 1072.0 C446.3 1068.8 448.3 1066.6 450.3 1065.9 C452.3 1065.2 454.1 1066.0 456.0 1068.0 C457.9 1070.0 459.7 1072.3 462.0 1078.0 C464.3 1083.7 467.3 1093.7 470.0 1102.0 C472.7 1110.3 475.4 1120.0 478.0 1128.0 C480.6 1136.0 483.0 1142.9 485.8 1150.0 C488.6 1157.1 490.7 1163.8 494.6 1170.4 C498.5 1177.0 501.9 1183.8 509.2 1189.4 C516.5 1195.0 528.7 1199.9 538.4 1204.0 C548.1 1208.1 561.5 1211.8 567.6 1214.2 C573.7 1216.6 557.7 1217.5 575.0 1218.6 C592.3 1219.7 655.3 1220.4 671.4 1220.8" fill="none" stroke="#9bbb59" stroke-width="2.4" stroke-linejoin="round" stroke-linecap="round"/>
<path d="M51.8 1240.0 C56.5 1239.9 70.3 1239.6 80.0 1239.3 C89.7 1239.0 100.1 1238.6 110.0 1238.2 C119.9 1237.8 131.9 1237.2 139.2 1236.7 C146.5 1236.2 148.9 1236.0 153.8 1235.0 C158.7 1234.0 163.5 1232.3 168.4 1231.0 C173.3 1229.7 177.9 1228.2 183.0 1227.0 C188.1 1225.8 194.2 1224.7 199.0 1224.0 C203.8 1223.3 208.5 1223.2 212.0 1223.0 C215.5 1222.8 215.3 1222.9 220.0 1222.5 C224.7 1222.1 234.5 1221.2 240.3 1220.7 C246.1 1220.2 248.9 1219.7 255.0 1219.5 C261.1 1219.3 270.6 1219.8 276.9 1219.5 C283.2 1219.2 289.1 1218.1 293.0 1218.0 C296.9 1217.9 297.4 1219.4 300.3 1218.8 C303.2 1218.2 307.1 1215.4 310.5 1214.4 C313.9 1213.4 317.3 1214.2 320.7 1212.9 C324.1 1211.6 327.2 1209.9 330.9 1206.4 C334.5 1202.9 339.4 1195.9 342.6 1191.8 C345.8 1187.7 343.6 1188.2 350.0 1181.8 C356.4 1175.3 373.3 1160.5 381.0 1153.1 C388.7 1145.7 391.0 1141.7 396.4 1137.6 C401.8 1133.5 409.7 1129.9 413.5 1128.4 C417.3 1126.9 416.9 1128.2 419.0 1128.5 C421.1 1128.8 422.9 1132.0 425.9 1129.9 C428.8 1127.8 433.7 1120.0 436.7 1116.0 C439.7 1112.0 441.6 1108.3 444.0 1106.0 C446.4 1103.7 449.0 1102.2 451.0 1101.9 C453.0 1101.6 454.2 1101.8 456.0 1104.0 C457.8 1106.2 459.7 1109.5 462.0 1115.0 C464.3 1120.5 467.0 1128.7 470.0 1137.0 C473.0 1145.3 476.7 1156.3 480.0 1165.0 C483.3 1173.7 486.7 1182.3 490.0 1189.0 C493.3 1195.7 495.8 1200.5 500.0 1205.0 C504.2 1209.5 509.2 1213.0 515.0 1216.0 C520.8 1219.0 527.5 1221.0 535.0 1223.0 C542.5 1225.0 549.2 1226.7 560.0 1228.0 C570.8 1229.3 581.4 1230.5 600.0 1231.0 C618.6 1231.5 659.5 1231.0 671.4 1231.0" fill="none" stroke="#1f497d" stroke-width="2.4" stroke-linejoin="round" stroke-linecap="round"/>
<path d="M51.8 1242.0 C56.5 1241.8 70.3 1241.5 80.0 1241.0 C89.7 1240.5 100.1 1240.0 110.0 1239.3 C119.9 1238.6 131.9 1238.1 139.2 1237.1 C146.5 1236.1 148.9 1235.5 153.8 1233.4 C158.7 1231.3 163.5 1227.9 168.4 1224.7 C173.3 1221.5 178.6 1217.1 183.0 1214.5 C187.4 1211.9 190.9 1210.5 194.7 1209.3 C198.5 1208.0 202.5 1207.7 206.0 1207.0 C209.5 1206.3 211.0 1205.3 215.5 1205.4 C220.0 1205.5 227.7 1207.2 233.0 1207.6 C238.3 1208.0 243.9 1207.6 247.6 1207.6 C251.3 1207.6 250.1 1208.1 255.0 1207.8 C259.9 1207.5 270.6 1206.4 276.9 1205.6 C283.2 1204.8 289.1 1202.8 293.0 1202.7 C296.9 1202.6 296.9 1204.8 300.3 1204.9 C303.7 1205.0 309.8 1203.3 313.4 1203.4 C317.0 1203.5 318.8 1205.3 322.2 1205.6 C325.6 1205.8 329.9 1206.2 333.8 1204.9 C337.7 1203.6 342.8 1199.3 345.5 1197.6 C348.2 1195.9 346.7 1197.2 350.0 1194.9 C353.3 1192.7 360.3 1187.7 365.5 1184.1 C370.7 1180.5 375.9 1177.2 381.0 1173.3 C386.1 1169.4 391.0 1164.8 396.4 1160.9 C401.8 1157.0 409.6 1151.6 413.5 1150.0 C417.4 1148.4 417.7 1150.7 420.0 1151.5 C422.3 1152.3 424.1 1156.0 427.4 1154.7 C430.7 1153.4 436.1 1146.3 439.8 1143.8 C443.5 1141.2 447.2 1139.9 449.6 1139.4 C452.0 1138.9 452.4 1139.8 454.0 1141.0 C455.6 1142.2 456.5 1142.4 459.1 1146.8 C461.7 1151.2 466.2 1160.8 469.4 1167.4 C472.6 1174.0 475.6 1181.7 478.2 1186.5 C480.8 1191.3 482.8 1193.1 485.0 1196.0 C487.2 1198.9 488.4 1200.7 491.7 1204.0 C495.0 1207.3 499.5 1212.7 504.8 1215.7 C510.1 1218.8 517.0 1220.3 523.8 1222.3 C530.6 1224.2 538.4 1226.0 545.7 1227.4 C553.0 1228.9 562.7 1230.3 567.6 1231.0 C572.5 1231.7 566.5 1231.5 575.0 1231.5 C583.5 1231.5 602.7 1231.2 618.8 1231.0 C634.9 1230.8 662.6 1230.4 671.4 1230.3" fill="none" stroke="#5f8030" stroke-width="2.4" stroke-linejoin="round" stroke-linecap="round"/>
<path d="M51.8 1238.3 C56.5 1238.2 70.3 1237.8 80.0 1237.5 C89.7 1237.2 100.1 1236.8 110.0 1236.4 C119.9 1236.0 131.9 1235.6 139.2 1234.9 C146.5 1234.2 148.9 1233.0 153.8 1232.0 C158.7 1231.0 163.5 1230.3 168.4 1229.1 C173.3 1227.9 178.1 1226.0 183.0 1224.7 C187.9 1223.4 193.1 1221.8 197.6 1221.0 C202.1 1220.2 206.5 1219.9 210.0 1219.6 C213.5 1219.3 213.8 1219.0 218.4 1219.0 C223.0 1219.0 231.3 1219.8 237.4 1219.3 C243.5 1218.8 248.9 1217.5 255.0 1215.8 C261.1 1214.1 267.7 1211.7 274.0 1209.3 C280.3 1206.9 286.9 1202.9 293.0 1201.2 C299.1 1199.5 305.9 1199.0 310.5 1199.1 C315.1 1199.2 317.3 1202.0 320.7 1202.0 C324.1 1202.0 327.2 1201.3 330.9 1199.1 C334.5 1196.9 339.4 1192.3 342.6 1188.8 C345.8 1185.3 343.6 1184.1 350.0 1177.9 C356.4 1171.7 373.3 1158.8 381.0 1151.6 C388.7 1144.4 391.0 1140.0 396.4 1134.6 C401.8 1129.2 409.7 1121.6 413.5 1119.1 C417.3 1116.6 416.9 1119.3 419.0 1119.8 C421.1 1120.3 422.9 1123.6 425.9 1122.2 C428.8 1120.8 433.8 1114.7 436.7 1111.3 C439.6 1107.9 440.9 1104.3 443.0 1102.0 C445.1 1099.7 447.6 1097.8 449.6 1097.5 C451.6 1097.2 452.9 1097.4 455.0 1100.0 C457.1 1102.6 459.7 1107.3 462.1 1112.9 C464.5 1118.5 466.9 1126.6 469.4 1133.5 C471.8 1140.4 474.4 1147.7 476.8 1154.1 C479.2 1160.5 481.7 1166.4 484.1 1171.8 C486.6 1177.2 488.5 1180.9 491.5 1186.5 C494.5 1192.1 497.7 1200.6 501.9 1205.5 C506.1 1210.4 510.4 1213.0 516.5 1215.7 C522.6 1218.4 531.1 1219.8 538.4 1221.5 C545.7 1223.2 554.2 1224.7 560.3 1225.9 C566.4 1227.1 565.2 1228.1 575.0 1228.8 C584.8 1229.5 602.7 1230.3 618.8 1230.3 C634.9 1230.3 662.6 1229.0 671.4 1228.8" fill="none" stroke="#8a2e2c" stroke-width="2.4" stroke-linejoin="round" stroke-linecap="round"/>
<path d="M51.8 1242.8 C56.5 1242.7 70.3 1242.3 80.0 1242.0 C89.7 1241.7 100.1 1241.7 110.0 1241.2 C119.9 1240.7 131.9 1240.1 139.2 1239.0 C146.5 1237.9 148.9 1236.8 153.8 1234.5 C158.7 1232.2 163.5 1228.0 168.4 1225.0 C173.3 1222.0 178.6 1218.7 183.0 1216.5 C187.4 1214.3 191.3 1213.0 194.7 1212.0 C198.1 1211.0 199.9 1211.2 203.4 1210.5 C206.9 1209.8 210.2 1208.0 215.5 1207.6 C220.8 1207.2 228.4 1209.2 235.0 1208.0 C241.6 1206.8 248.0 1202.7 255.0 1200.5 C262.0 1198.3 270.6 1196.3 276.9 1194.7 C283.2 1193.1 287.4 1191.4 293.0 1191.0 C298.6 1190.6 305.1 1191.9 310.5 1192.5 C315.9 1193.1 320.7 1195.5 325.1 1194.7 C329.5 1194.0 332.9 1191.3 337.0 1188.0 C341.1 1184.7 342.7 1181.4 350.0 1174.8 C357.3 1168.2 373.3 1155.7 381.0 1148.5 C388.7 1141.3 391.0 1137.4 396.4 1131.5 C401.8 1125.6 409.7 1115.9 413.5 1112.9 C417.3 1109.9 416.9 1113.0 419.0 1113.5 C421.1 1114.0 422.9 1117.9 425.9 1116.0 C428.9 1114.1 434.1 1105.7 437.0 1102.0 C439.9 1098.3 440.9 1096.0 443.0 1094.0 C445.1 1092.0 447.6 1090.4 449.6 1090.1 C451.6 1089.8 452.9 1089.5 455.0 1092.0 C457.1 1094.5 459.5 1099.0 462.0 1105.0 C464.5 1111.0 467.0 1118.5 470.0 1128.0 C473.0 1137.5 475.9 1150.7 480.0 1161.7 C484.1 1172.7 489.7 1185.5 494.6 1193.8 C499.5 1202.1 503.1 1207.2 509.2 1211.3 C515.3 1215.4 523.8 1216.6 531.1 1218.6 C538.4 1220.5 544.9 1221.5 553.0 1223.0 C561.1 1224.5 568.8 1226.3 580.0 1227.4 C591.2 1228.5 604.8 1229.1 620.0 1229.5 C635.2 1229.9 662.8 1229.9 671.4 1230.0" fill="none" stroke="#4bacc6" stroke-width="2.4" stroke-linejoin="round" stroke-linecap="round"/>
<path d="M51.8 1242.2 C56.5 1242.1 70.3 1241.8 80.0 1241.5 C89.7 1241.2 100.1 1241.1 110.0 1240.7 C119.9 1240.3 131.9 1240.5 139.2 1239.3 C146.5 1238.1 148.9 1235.5 153.8 1233.6 C158.7 1231.6 163.5 1229.8 168.4 1227.6 C173.3 1225.4 178.6 1222.5 183.0 1220.3 C187.4 1218.1 191.3 1215.8 194.7 1214.5 C198.1 1213.2 199.4 1212.6 203.4 1212.3 C207.4 1212.0 212.2 1212.4 218.4 1212.7 C224.6 1213.0 234.2 1213.9 240.3 1214.2 C246.4 1214.5 249.4 1215.0 255.0 1214.4 C260.6 1213.8 267.7 1212.7 274.0 1210.7 C280.3 1208.8 286.9 1204.6 293.0 1202.7 C299.1 1200.8 305.1 1200.4 310.5 1199.1 C315.9 1197.8 320.7 1197.2 325.1 1194.7 C329.5 1192.2 332.9 1188.3 337.0 1184.0 C341.1 1179.7 345.2 1174.0 350.0 1168.6 C354.8 1163.2 360.3 1156.2 365.5 1151.6 C370.7 1146.9 375.9 1145.1 381.0 1140.7 C386.1 1136.3 391.0 1131.5 396.4 1125.3 C401.8 1119.1 408.6 1107.5 413.5 1103.6 C418.4 1099.7 422.0 1104.3 425.9 1102.0 C429.8 1099.7 433.7 1093.2 436.7 1089.7 C439.7 1086.2 441.9 1082.9 444.0 1081.0 C446.1 1079.1 447.8 1078.6 449.6 1078.4 C451.4 1078.2 452.9 1078.1 455.0 1080.0 C457.1 1081.9 459.5 1084.7 462.0 1090.0 C464.5 1095.3 467.7 1105.3 470.0 1112.0 C472.3 1118.7 473.9 1123.7 476.0 1130.0 C478.1 1136.3 479.8 1140.6 482.9 1150.0 C486.0 1159.4 490.2 1177.2 494.6 1186.5 C499.0 1195.8 503.1 1200.9 509.2 1205.5 C515.3 1210.1 523.8 1211.5 531.1 1214.2 C538.4 1216.9 544.9 1219.5 553.0 1221.5 C561.1 1223.5 571.5 1224.9 580.0 1225.9 C588.5 1226.9 595.3 1226.9 604.2 1227.4 C613.1 1227.9 622.2 1228.4 633.4 1228.8 C644.6 1229.2 665.1 1229.5 671.4 1229.6" fill="none" stroke="#86ade0" stroke-width="2.4" stroke-linejoin="round" stroke-linecap="round"/>
<path d="M51.8 1235.5 C56.5 1235.2 70.3 1234.5 80.0 1234.0 C89.7 1233.5 100.1 1233.2 110.0 1232.5 C119.9 1231.8 131.9 1230.8 139.2 1229.5 C146.5 1228.2 148.9 1227.6 153.8 1224.9 C158.7 1222.2 163.5 1216.4 168.4 1213.2 C173.3 1210.0 178.6 1207.4 183.0 1205.7 C187.4 1204.0 190.9 1203.6 194.7 1202.8 C198.5 1202.0 202.5 1201.4 206.0 1201.0 C209.5 1200.6 211.5 1200.0 215.5 1200.3 C219.5 1200.5 225.7 1201.8 230.1 1202.5 C234.5 1203.2 237.7 1204.3 241.8 1204.7 C246.0 1205.1 249.2 1205.7 255.0 1204.9 C260.9 1204.1 270.6 1201.5 276.9 1199.8 C283.2 1198.1 287.4 1195.9 293.0 1194.7 C298.6 1193.5 305.4 1193.1 310.5 1192.5 C315.6 1191.9 319.7 1192.1 323.6 1191.0 C327.5 1189.9 329.4 1189.4 333.8 1185.9 C338.2 1182.4 344.8 1175.2 350.0 1170.0 C355.2 1164.8 359.8 1160.0 365.0 1155.0 C370.2 1150.0 375.8 1146.0 381.0 1140.0 C386.2 1134.0 391.0 1126.1 396.4 1119.0 C401.8 1111.9 409.7 1100.7 413.5 1097.4 C417.3 1094.1 416.9 1098.2 419.0 1099.0 C421.1 1099.8 422.9 1103.5 425.9 1102.0 C428.8 1100.5 433.7 1093.8 436.7 1090.0 C439.7 1086.2 441.7 1081.8 444.0 1079.0 C446.3 1076.2 448.3 1073.9 450.3 1073.2 C452.3 1072.5 454.1 1073.0 456.0 1075.0 C457.9 1077.0 459.7 1080.0 462.0 1085.0 C464.3 1090.0 467.3 1096.7 470.0 1105.0 C472.7 1113.3 474.7 1124.5 478.0 1135.0 C481.3 1145.5 486.0 1158.7 490.0 1168.0 C494.0 1177.3 497.5 1185.6 501.9 1190.9 C506.3 1196.2 510.4 1196.4 516.5 1199.6 C522.6 1202.8 529.9 1206.9 538.4 1209.9 C546.9 1213.0 561.5 1216.1 567.6 1217.9 C573.7 1219.7 568.9 1220.2 575.0 1220.8 C581.1 1221.4 594.5 1221.4 604.2 1221.5 C613.9 1221.6 622.2 1221.4 633.4 1221.5 C644.6 1221.6 665.1 1222.2 671.4 1222.3" fill="none" stroke="#d0681a" stroke-width="2.4" stroke-linejoin="round" stroke-linecap="round"/>
<path d="M51.8 1237.5 C56.5 1237.3 70.3 1236.9 80.0 1236.5 C89.7 1236.1 100.1 1235.8 110.0 1235.0 C119.9 1234.2 131.9 1232.7 139.2 1231.5 C146.5 1230.3 148.9 1230.2 153.8 1227.6 C158.7 1225.0 163.5 1220.0 168.4 1215.9 C173.3 1211.8 178.6 1206.3 183.0 1203.0 C187.4 1199.7 191.0 1197.7 194.7 1196.0 C198.4 1194.3 201.5 1193.9 205.0 1193.0 C208.5 1192.1 211.6 1190.5 215.5 1190.8 C219.4 1191.0 224.2 1192.9 228.6 1194.5 C233.0 1196.1 237.7 1198.8 241.8 1200.3 C245.9 1201.8 247.9 1202.6 253.4 1203.2 C258.9 1203.8 267.2 1204.5 275.0 1204.0 C282.8 1203.5 292.6 1201.5 300.0 1200.0 C307.4 1198.5 313.1 1198.0 319.2 1194.7 C325.3 1191.4 331.7 1185.7 336.8 1180.1 C341.9 1174.5 345.2 1167.5 350.0 1160.9 C354.8 1154.3 360.3 1146.6 365.5 1140.7 C370.7 1134.8 375.9 1131.0 381.0 1125.3 C386.1 1119.6 391.0 1112.2 396.4 1106.7 C401.8 1101.2 408.6 1094.3 413.5 1092.0 C418.4 1089.7 422.0 1094.5 425.9 1092.8 C429.8 1091.1 433.5 1086.0 436.7 1081.9 C439.9 1077.8 442.2 1071.5 445.0 1068.0 C447.8 1064.5 450.4 1060.4 453.2 1060.7 C456.0 1061.0 459.2 1065.1 462.0 1070.0 C464.8 1074.9 467.2 1081.7 470.0 1090.0 C472.8 1098.3 475.9 1110.0 479.0 1120.0 C482.1 1130.0 485.0 1140.1 488.8 1150.0 C492.6 1159.9 498.0 1171.7 501.9 1179.2 C505.8 1186.8 507.4 1191.0 512.1 1195.3 C516.8 1199.6 523.7 1202.5 530.0 1205.0 C536.3 1207.5 542.5 1208.5 550.0 1210.0 C557.5 1211.5 567.2 1213.6 575.0 1214.2 C582.8 1214.8 589.6 1213.1 596.9 1213.5 C604.2 1213.9 611.5 1215.3 618.8 1216.4 C626.1 1217.5 631.9 1219.2 640.7 1220.1 C649.5 1220.9 666.3 1221.3 671.4 1221.5" fill="none" stroke="#4f81bd" stroke-width="2.4" stroke-linejoin="round" stroke-linecap="round"/>
<path d="M51.8 1233.1 C56.5 1233.0 70.3 1232.6 80.0 1232.3 C89.7 1232.0 102.6 1231.6 110.0 1231.2 C117.4 1230.8 119.7 1230.4 124.6 1229.8 C129.5 1229.2 134.3 1228.8 139.2 1227.6 C144.1 1226.4 148.9 1225.4 153.8 1222.5 C158.7 1219.6 163.5 1214.1 168.4 1210.1 C173.3 1206.1 178.6 1201.3 183.0 1198.4 C187.4 1195.5 191.3 1193.8 194.7 1192.6 C198.1 1191.4 199.4 1191.9 203.4 1191.1 C207.4 1190.3 212.7 1188.4 218.4 1187.9 C224.1 1187.4 232.5 1189.2 237.4 1188.3 C242.3 1187.4 244.7 1184.0 247.6 1182.8 C250.5 1181.5 250.6 1182.2 255.0 1180.8 C259.4 1179.4 267.7 1176.3 274.0 1174.2 C280.3 1172.1 286.9 1169.0 293.0 1168.4 C299.1 1167.8 305.9 1168.9 310.5 1170.6 C315.1 1172.3 317.8 1177.0 320.7 1178.6 C323.6 1180.2 325.3 1179.7 328.0 1180.1 C330.7 1180.5 334.3 1181.1 336.8 1180.8 C339.3 1180.5 340.8 1179.2 343.0 1178.0 C345.2 1176.8 343.7 1178.5 350.0 1173.3 C356.3 1168.1 373.3 1154.4 381.0 1146.9 C388.7 1139.4 391.0 1134.9 396.4 1128.4 C401.8 1122.0 409.6 1111.3 413.5 1108.2 C417.4 1105.1 417.9 1109.0 420.0 1110.0 C422.1 1111.0 423.1 1115.5 425.9 1114.4 C428.7 1113.3 433.8 1106.7 436.7 1103.6 C439.6 1100.5 440.9 1097.9 443.0 1096.0 C445.1 1094.1 447.6 1092.7 449.6 1092.4 C451.6 1092.1 452.9 1092.2 455.0 1094.0 C457.1 1095.8 459.5 1097.5 462.0 1103.0 C464.5 1108.5 467.0 1118.4 470.0 1127.0 C473.0 1135.6 475.9 1145.7 480.0 1154.4 C484.1 1163.1 489.7 1172.4 494.6 1179.2 C499.5 1186.0 504.3 1191.8 509.2 1195.3 C514.1 1198.8 517.7 1198.2 523.8 1200.4 C529.9 1202.6 538.4 1206.0 545.7 1208.4 C553.0 1210.8 562.7 1213.7 567.6 1215.0 C572.5 1216.3 568.9 1216.0 575.0 1216.4 C581.1 1216.8 595.7 1217.2 604.2 1217.2 C612.7 1217.2 618.8 1216.3 626.1 1216.4 C633.4 1216.5 640.5 1218.0 648.0 1217.9 C655.5 1217.8 667.5 1216.1 671.4 1215.7" fill="none" stroke="#f79646" stroke-width="2.4" stroke-linejoin="round" stroke-linecap="round"/>
<path d="M51.8 1234.5 C56.5 1234.3 70.3 1233.9 80.0 1233.5 C89.7 1233.1 100.1 1233.0 110.0 1232.2 C119.9 1231.5 131.9 1230.4 139.2 1229.0 C146.5 1227.6 148.9 1226.8 153.8 1224.0 C158.7 1221.2 163.5 1215.8 168.4 1212.0 C173.3 1208.2 178.6 1203.9 183.0 1201.0 C187.4 1198.1 191.0 1196.3 194.7 1194.5 C198.4 1192.7 201.1 1191.5 205.0 1190.0 C208.9 1188.5 213.0 1187.8 218.4 1185.7 C223.8 1183.7 231.3 1180.8 237.4 1177.7 C243.5 1174.6 249.6 1169.9 255.0 1166.9 C260.4 1163.9 264.7 1162.0 269.6 1159.6 C274.5 1157.2 280.3 1154.2 284.2 1152.3 C288.1 1150.4 289.4 1148.7 293.0 1148.0 C296.6 1147.3 302.2 1147.0 306.1 1148.0 C310.0 1149.0 312.7 1152.0 316.3 1153.8 C319.9 1155.6 324.8 1157.9 328.0 1158.9 C331.2 1159.9 332.9 1160.7 335.3 1159.6 C337.7 1158.5 340.2 1154.4 342.6 1152.3 C345.1 1150.2 346.2 1151.2 350.0 1146.9 C353.8 1142.7 360.3 1132.0 365.5 1126.8 C370.7 1121.6 375.9 1122.2 381.0 1116.0 C386.1 1109.8 391.2 1098.5 396.4 1089.7 C401.5 1080.9 408.3 1067.6 411.9 1063.3 C415.5 1059.0 415.7 1063.1 418.0 1064.0 C420.3 1064.9 423.2 1069.5 425.9 1068.8 C428.6 1068.1 431.3 1063.8 434.0 1060.0 C436.7 1056.2 439.0 1049.9 442.0 1046.0 C445.0 1042.1 449.3 1037.5 451.8 1036.5 C454.3 1035.5 455.3 1038.0 457.0 1040.0 C458.7 1042.0 460.0 1043.5 462.1 1048.5 C464.2 1053.5 466.9 1061.6 469.4 1070.0 C471.8 1078.4 474.4 1089.5 476.8 1099.0 C479.2 1108.5 481.7 1118.8 484.1 1127.0 C486.6 1135.2 488.6 1141.5 491.5 1148.0 C494.4 1154.5 498.9 1161.3 501.8 1166.0 C504.8 1170.7 505.5 1172.6 509.2 1176.3 C512.9 1180.0 517.7 1183.9 523.8 1188.0 C529.9 1192.1 538.4 1197.9 545.7 1201.1 C553.0 1204.2 562.7 1205.6 567.6 1206.9 C572.5 1208.2 568.9 1208.1 575.0 1209.1 C581.1 1210.1 594.5 1212.3 604.2 1212.8 C613.9 1213.3 626.1 1211.8 633.4 1212.0 C640.7 1212.2 641.7 1214.0 648.0 1214.2 C654.3 1214.4 667.5 1213.3 671.4 1213.1" fill="none" stroke="#c0504d" stroke-width="2.4" stroke-linejoin="round" stroke-linecap="round"/>
<path d="M51.8 1227.5 C56.5 1227.2 70.3 1226.5 80.0 1226.0 C89.7 1225.5 102.6 1225.0 110.0 1224.7 C117.4 1224.4 119.7 1224.5 124.6 1223.9 C129.5 1223.3 134.8 1222.1 139.2 1221.0 C143.6 1219.9 147.2 1219.0 150.9 1217.4 C154.6 1215.8 157.7 1214.2 161.1 1211.5 C164.5 1208.8 167.7 1205.0 171.3 1201.3 C175.0 1197.6 179.1 1193.2 183.0 1189.6 C186.9 1185.9 191.3 1181.8 194.7 1179.4 C198.1 1177.0 200.8 1176.1 203.4 1175.0 C206.0 1173.9 207.5 1173.3 210.0 1172.8 C212.5 1172.3 215.1 1171.3 218.4 1171.8 C221.8 1172.2 226.2 1173.7 230.1 1175.5 C234.0 1177.3 237.7 1180.8 241.8 1182.8 C246.0 1184.8 249.6 1186.3 255.0 1187.4 C260.4 1188.5 267.9 1190.0 274.0 1189.6 C280.1 1189.2 285.7 1186.7 291.5 1185.2 C297.3 1183.7 304.1 1182.4 309.0 1180.8 C313.9 1179.2 317.1 1177.8 320.7 1175.7 C324.3 1173.6 327.2 1171.8 330.9 1168.4 C334.5 1165.0 339.4 1159.4 342.6 1155.3 C345.8 1151.2 346.2 1149.8 350.0 1143.8 C353.8 1137.8 360.3 1125.8 365.5 1119.1 C370.7 1112.4 375.9 1109.3 381.0 1103.6 C386.1 1097.9 391.2 1090.2 396.4 1085.0 C401.5 1079.8 408.3 1074.6 411.9 1072.6 C415.5 1070.6 415.9 1072.7 418.0 1073.0 C420.1 1073.3 422.0 1075.3 424.3 1074.2 C426.6 1073.1 429.4 1070.8 432.0 1066.4 C434.6 1062.0 437.6 1052.5 439.8 1047.9 C442.0 1043.3 443.0 1041.3 445.0 1039.0 C447.0 1036.7 449.8 1034.5 451.8 1034.3 C453.8 1034.1 455.3 1035.9 457.0 1038.0 C458.7 1040.1 460.0 1041.7 462.1 1046.8 C464.2 1051.9 466.9 1060.2 469.4 1068.8 C471.8 1077.4 474.4 1088.4 476.8 1098.2 C479.2 1108.0 481.7 1119.0 484.1 1127.6 C486.6 1136.2 488.6 1142.8 491.5 1149.7 C494.4 1156.6 498.9 1163.9 501.8 1168.8 C504.8 1173.7 505.5 1175.5 509.2 1179.2 C512.9 1182.9 517.7 1187.5 523.8 1190.9 C529.9 1194.3 538.4 1197.3 545.7 1199.6 C553.0 1201.9 562.7 1203.6 567.6 1204.7 C572.5 1205.8 568.9 1205.6 575.0 1206.2 C581.1 1206.8 595.0 1207.9 604.2 1208.4 C613.5 1208.9 623.2 1208.5 630.5 1209.1 C637.8 1209.7 641.2 1211.5 648.0 1212.0 C654.8 1212.5 667.5 1212.0 671.4 1212.0" fill="none" stroke="#8064a2" stroke-width="2.4" stroke-linejoin="round" stroke-linecap="round"/>
<path d="M51.8 1220.8 C56.5 1220.7 70.3 1220.3 80.0 1220.0 C89.7 1219.7 103.5 1218.9 110.0 1218.8 C116.5 1218.7 115.6 1220.1 118.8 1219.6 C122.0 1219.1 126.1 1216.6 129.0 1215.9 C131.9 1215.2 133.4 1216.2 136.3 1215.2 C139.2 1214.2 143.6 1211.7 146.5 1210.1 C149.4 1208.5 151.4 1208.1 153.8 1205.7 C156.2 1203.3 158.7 1199.2 161.1 1195.5 C163.5 1191.8 166.0 1187.5 168.4 1183.8 C170.8 1180.1 173.3 1177.0 175.7 1173.6 C178.1 1170.2 180.3 1167.1 183.0 1163.4 C185.7 1159.8 189.4 1154.4 191.8 1151.7 C194.2 1149.0 195.6 1148.6 197.6 1147.3 C199.6 1146.0 201.7 1145.3 203.8 1144.1 C205.9 1142.9 208.1 1141.0 210.0 1140.0 C211.9 1139.0 213.8 1138.3 215.5 1138.2 C217.2 1138.1 218.3 1138.5 220.0 1139.5 C221.7 1140.5 223.0 1141.5 225.7 1144.1 C228.3 1146.7 232.2 1151.7 235.9 1155.0 C239.6 1158.3 244.4 1161.6 247.6 1163.8 C250.8 1166.0 251.8 1167.2 255.0 1168.4 C258.2 1169.7 262.6 1171.3 266.7 1171.3 C270.8 1171.3 275.4 1169.9 279.8 1168.4 C284.2 1167.0 289.4 1163.8 293.0 1162.6 C296.6 1161.4 298.3 1162.6 301.7 1161.1 C305.1 1159.6 309.0 1155.9 313.4 1153.8 C317.8 1151.7 324.1 1149.9 328.0 1148.7 C331.9 1147.5 334.1 1147.8 336.8 1146.5 C339.5 1145.2 341.8 1142.5 344.0 1141.0 C346.2 1139.5 346.4 1139.2 350.0 1137.6 C353.6 1136.0 360.3 1134.1 365.5 1131.5 C370.7 1128.9 375.9 1127.6 381.0 1122.2 C386.1 1116.8 392.2 1105.1 396.4 1098.9 C400.6 1092.7 403.1 1088.5 406.0 1085.0 C408.9 1081.5 411.2 1079.1 413.5 1078.0 C415.8 1076.9 417.7 1077.7 420.0 1078.5 C422.3 1079.3 424.6 1083.4 427.4 1082.7 C430.2 1082.0 433.8 1077.5 436.7 1074.2 C439.6 1070.9 442.2 1065.7 445.0 1063.0 C447.8 1060.3 450.3 1057.3 453.2 1057.8 C456.1 1058.3 459.4 1061.6 462.1 1065.9 C464.8 1070.2 466.7 1075.7 469.4 1083.5 C472.1 1091.3 475.2 1103.6 478.2 1112.9 C481.1 1122.2 484.2 1132.0 487.1 1139.4 C490.1 1146.8 493.4 1152.9 495.9 1157.1 C498.4 1161.3 500.2 1162.6 501.9 1164.6 C503.6 1166.5 503.8 1166.6 506.2 1168.8 C508.6 1171.0 511.1 1174.8 516.5 1177.7 C521.9 1180.7 531.1 1183.7 538.4 1186.5 C545.7 1189.3 553.4 1192.7 560.3 1194.5 C567.2 1196.3 573.9 1196.9 580.0 1197.4 C586.1 1197.9 589.9 1197.6 596.9 1197.4 C603.9 1197.2 614.4 1195.6 621.7 1196.0 C629.0 1196.4 634.4 1198.5 640.7 1199.6 C647.0 1200.7 654.6 1202.2 659.7 1202.6 C664.8 1203.0 669.5 1201.9 671.4 1201.8" fill="none" stroke="#2a7688" stroke-width="2.4" stroke-linejoin="round" stroke-linecap="round"/>
<path d="M51.8 1204.0 C57.3 1203.9 75.2 1203.2 84.9 1203.0 C94.7 1202.9 104.3 1203.1 110.3 1202.9 C116.3 1202.7 117.2 1202.9 120.7 1201.9 C124.1 1200.8 128.1 1198.7 131.0 1196.8 C134.0 1195.0 135.6 1193.9 138.3 1190.8 C141.0 1187.7 144.6 1183.2 147.2 1178.0 C149.8 1172.7 151.9 1165.8 153.9 1159.5 C155.9 1153.2 156.6 1149.5 159.1 1140.0 C161.5 1130.6 166.0 1112.8 168.7 1102.9 C171.4 1093.1 173.3 1088.2 175.3 1080.8 C177.3 1073.4 179.0 1066.7 180.9 1058.6 C182.8 1050.5 185.3 1040.2 187.0 1032.4 C188.7 1024.6 189.5 1019.0 191.3 1011.9 C193.0 1004.8 195.3 996.9 197.6 990.0 C199.9 983.1 202.3 975.9 205.1 970.4 C207.8 964.9 211.2 960.3 213.9 957.0 C216.6 953.7 218.9 951.0 221.4 950.9 C223.9 950.8 226.7 953.2 228.8 956.4 C231.0 959.7 232.4 964.5 234.4 970.3 C236.4 976.2 238.7 984.5 240.9 991.7 C243.1 998.8 245.3 1005.9 247.5 1013.0 C249.7 1020.1 251.9 1028.5 254.1 1034.4 C256.3 1040.3 258.5 1044.9 260.7 1048.3 C262.9 1051.7 265.5 1053.6 267.3 1054.7 C269.2 1055.9 269.9 1056.2 271.8 1055.4 C273.7 1054.7 276.2 1053.0 278.9 1050.2 C281.6 1047.4 284.5 1043.4 288.1 1038.7 C291.6 1033.9 297.2 1026.1 300.2 1021.6 C303.3 1017.1 304.4 1014.0 306.3 1011.7 C308.3 1009.4 310.2 1008.3 311.9 1007.7 C313.6 1007.2 314.9 1007.8 316.5 1008.2 C318.1 1008.7 319.8 1009.6 321.6 1010.2 C323.4 1010.8 324.6 1011.2 327.4 1012.0 C330.2 1012.8 335.2 1014.8 338.4 1014.9 C341.7 1014.9 344.2 1013.1 347.0 1012.2 C349.7 1011.2 352.3 1010.2 354.8 1009.1 C357.3 1008.0 359.2 1006.3 362.2 1005.5 C365.2 1004.6 369.7 1005.4 372.6 1004.1 C375.4 1002.8 377.5 1000.3 379.5 997.9 C381.5 995.5 382.9 992.3 384.6 989.8 C386.2 987.2 387.4 986.4 389.6 982.5 C391.8 978.6 394.9 971.6 397.8 966.3 C400.6 961.0 404.3 954.4 406.8 950.8 C409.3 947.2 410.8 945.9 413.0 944.6 C415.2 943.2 417.7 942.8 420.1 942.8 C422.5 942.7 424.6 945.9 427.5 944.3 C430.5 942.6 434.7 937.3 437.9 932.7 C441.1 928.2 444.5 920.4 446.8 916.9 C449.1 913.5 450.0 913.1 451.6 912.0 C453.2 910.9 454.9 910.2 456.5 910.4 C458.0 910.6 459.4 911.7 460.7 913.0 C462.1 914.3 463.5 916.5 464.6 918.3 C465.7 920.1 466.3 921.7 467.3 923.8 C468.4 926.0 469.0 926.2 470.9 931.1 C472.8 936.0 476.1 945.1 478.7 953.2 C481.3 961.4 484.7 972.6 486.6 980.0 C488.5 987.4 489.0 991.9 490.2 997.9 C491.4 1003.8 492.5 1010.4 493.6 1015.6 C494.7 1020.9 495.7 1024.5 496.8 1029.5 C497.9 1034.4 498.9 1040.2 500.3 1045.2 C501.8 1050.1 503.5 1054.7 505.4 1059.1 C507.3 1063.5 509.6 1068.5 511.6 1071.4 C513.7 1074.3 515.5 1074.9 517.6 1076.4 C519.7 1077.8 522.2 1079.0 524.3 1080.2 C526.4 1081.5 528.2 1081.9 530.2 1083.8 C532.2 1085.7 533.1 1088.9 536.1 1091.7 C539.1 1094.4 544.0 1097.2 548.0 1100.4 C551.9 1103.5 556.6 1107.9 559.9 1110.4 C563.1 1112.9 563.5 1113.9 567.4 1115.5 C571.2 1117.1 577.7 1119.0 582.9 1120.0 C588.1 1121.0 593.9 1121.6 598.6 1121.5 C603.2 1121.4 606.6 1120.5 611.0 1119.2 C615.4 1118.0 621.1 1114.0 625.0 1114.0 C628.9 1114.0 631.0 1116.1 634.3 1119.2 C637.7 1122.4 641.8 1128.8 645.2 1132.8 C648.6 1136.9 651.8 1141.1 654.5 1143.4 C657.3 1145.7 659.0 1145.8 661.8 1146.5 C664.7 1147.2 670.1 1147.5 671.7 1147.6" fill="none" stroke="#da2329" stroke-width="2.4" stroke-linejoin="round" stroke-linecap="round"/>
<rect x="200.7" y="928" width="37.3" height="324.6" fill="rgb(128,129,136)" fill-opacity="0.5"/>
<rect x="292.2" y="928" width="36.6" height="324.6" fill="rgb(128,129,136)" fill-opacity="0.5"/>
<rect x="607.2" y="928" width="36.9" height="324.6" fill="rgb(128,129,136)" fill-opacity="0.5"/>
<path d="M51.8 1184.9 C55.6 1185.0 67.5 1185.7 74.8 1185.8 C82.0 1185.8 89.1 1185.4 95.1 1185.3 C101.0 1185.1 106.0 1184.9 110.3 1184.8 C114.6 1184.6 117.6 1184.7 120.7 1184.3 C123.8 1183.9 126.5 1183.3 129.0 1182.2 C131.5 1181.2 133.8 1179.7 135.9 1178.0 C138.0 1176.2 139.7 1174.0 141.5 1171.6 C143.3 1169.2 144.9 1166.9 146.7 1163.5 C148.4 1160.2 150.3 1155.6 151.8 1151.4 C153.4 1147.2 154.5 1143.2 156.0 1138.4 C157.6 1133.5 159.3 1128.2 161.1 1122.3 C162.9 1116.4 165.0 1109.8 167.0 1102.9 C169.0 1096.0 171.1 1088.0 173.3 1080.8 C175.4 1073.6 177.7 1068.0 180.0 1059.6 C182.3 1051.2 184.2 1040.4 187.1 1030.5 C190.0 1020.5 194.8 1007.9 197.6 999.8 C200.4 991.6 201.6 986.3 203.9 981.4 C206.2 976.5 208.7 973.2 211.4 970.4 C214.1 967.6 217.0 964.2 220.1 964.5 C223.2 964.8 227.4 969.1 230.0 972.4 C232.5 975.7 233.6 979.0 235.4 984.2 C237.3 989.3 238.9 996.3 240.9 1003.4 C242.9 1010.5 245.3 1019.8 247.5 1026.9 C249.7 1034.0 251.9 1040.8 254.1 1046.2 C256.3 1051.5 258.3 1056.0 260.7 1059.0 C263.1 1062.0 266.3 1063.4 268.5 1064.3 C270.6 1065.2 271.9 1065.1 273.8 1064.5 C275.8 1064.0 277.6 1063.2 279.9 1061.1 C282.3 1058.9 284.7 1056.1 288.1 1051.7 C291.4 1047.2 296.0 1039.9 300.2 1034.4 C304.4 1028.9 308.7 1022.2 313.2 1018.5 C317.8 1014.8 323.4 1013.6 327.4 1012.0 C331.3 1010.4 333.2 1010.9 337.0 1009.1 C340.8 1007.3 346.4 1003.7 350.3 1001.2 C354.3 998.7 357.9 995.6 360.7 994.0 C363.5 992.5 365.1 992.4 367.3 992.0 C369.5 991.5 372.1 991.9 374.1 991.1 C376.1 990.2 377.7 988.7 379.5 987.0 C381.2 985.4 382.0 985.0 384.6 981.1 C387.1 977.1 391.0 969.3 394.7 963.3 C398.4 957.3 403.6 949.3 406.8 945.1 C410.0 940.8 411.8 939.3 414.0 937.6 C416.2 936.0 417.6 935.6 420.1 934.9 C422.6 934.2 426.1 935.4 429.0 933.4 C432.0 931.4 434.9 927.3 437.9 922.6 C440.8 918.0 444.4 909.4 446.8 905.4 C449.3 901.3 450.6 899.9 452.6 898.2 C454.6 896.4 456.9 895.2 458.7 895.0 C460.5 894.8 461.8 895.4 463.3 896.7 C464.7 897.9 465.5 898.8 467.5 902.5 C469.6 906.2 473.3 913.6 475.6 918.9 C477.8 924.2 479.3 929.1 481.2 934.2 C483.0 939.3 485.1 944.4 486.6 949.5 C488.2 954.6 489.2 960.3 490.5 964.7 C491.8 969.1 493.1 972.3 494.5 976.2 C495.8 980.0 497.1 983.9 498.4 987.7 C499.7 991.5 501.1 995.2 502.4 999.2 C503.6 1003.1 504.7 1007.5 505.9 1011.2 C507.1 1014.9 508.4 1018.6 509.5 1021.6 C510.6 1024.5 510.9 1025.9 512.6 1028.8 C514.4 1031.7 517.6 1036.1 520.1 1038.8 C522.5 1041.6 524.8 1042.3 527.5 1045.4 C530.1 1048.4 532.7 1053.2 536.1 1057.1 C539.5 1061.0 544.0 1064.6 548.0 1068.7 C551.9 1072.7 556.6 1078.3 559.9 1081.6 C563.1 1084.9 564.1 1086.0 567.4 1088.2 C570.7 1090.5 576.0 1093.4 579.9 1095.0 C583.8 1096.7 586.6 1097.1 590.7 1098.1 C594.9 1099.1 600.4 1100.9 604.8 1101.0 C609.2 1101.2 613.5 1099.5 617.2 1098.8 C620.8 1098.1 623.6 1096.5 626.5 1096.8 C629.4 1097.1 631.7 1097.9 634.3 1100.4 C636.9 1102.8 639.3 1107.8 642.1 1111.7 C645.0 1115.6 648.4 1120.9 651.5 1123.8 C654.6 1126.7 657.5 1127.6 660.8 1129.1 C664.2 1130.6 669.9 1132.2 671.7 1132.8" fill="none" stroke="#000000" stroke-width="2.8" stroke-linejoin="round" stroke-linecap="round"/>
</svg>
</body></html>
